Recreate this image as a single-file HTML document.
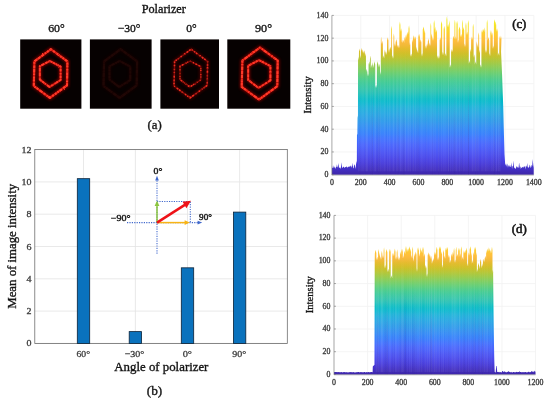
<!DOCTYPE html>
<html lang="en"><head><meta charset="utf-8"><title>Polarizer figure</title>
<style>html,body{margin:0;padding:0;background:#fff;}body{width:550px;height:402px;overflow:hidden;}svg{display:block;}text{font-family:"Liberation Serif", serif;fill:#161616;stroke:#161616;stroke-width:0.34px;}text.in{stroke-width:0.4px;}text.tk{fill:#3c3c3c;stroke:#3c3c3c;stroke-width:0.3px;}</style></head><body>
<svg width="550" height="402" viewBox="0 0 550 402">
<defs>
<linearGradient id="gc" gradientUnits="userSpaceOnUse" x1="0" y1="174.70" x2="0" y2="15.40">
<stop offset="0.0000" stop-color="#3e26a8"/>
<stop offset="0.0159" stop-color="#402ab4"/>
<stop offset="0.0317" stop-color="#422ec0"/>
<stop offset="0.0476" stop-color="#4332cb"/>
<stop offset="0.0635" stop-color="#4537d5"/>
<stop offset="0.0794" stop-color="#463cde"/>
<stop offset="0.0952" stop-color="#4741e5"/>
<stop offset="0.1111" stop-color="#4747eb"/>
<stop offset="0.1270" stop-color="#484df0"/>
<stop offset="0.1429" stop-color="#4852f4"/>
<stop offset="0.1587" stop-color="#4758f8"/>
<stop offset="0.1746" stop-color="#465efb"/>
<stop offset="0.1905" stop-color="#4563fd"/>
<stop offset="0.2063" stop-color="#4269fe"/>
<stop offset="0.2222" stop-color="#3e6fff"/>
<stop offset="0.2381" stop-color="#3875fe"/>
<stop offset="0.2540" stop-color="#327cfc"/>
<stop offset="0.2698" stop-color="#2f81fa"/>
<stop offset="0.2857" stop-color="#2e87f7"/>
<stop offset="0.3016" stop-color="#2d8cf3"/>
<stop offset="0.3175" stop-color="#2b91ef"/>
<stop offset="0.3333" stop-color="#2797eb"/>
<stop offset="0.3492" stop-color="#259be8"/>
<stop offset="0.3651" stop-color="#23a0e5"/>
<stop offset="0.3810" stop-color="#20a5e3"/>
<stop offset="0.3968" stop-color="#1ca9df"/>
<stop offset="0.4127" stop-color="#18addb"/>
<stop offset="0.4286" stop-color="#12b1d6"/>
<stop offset="0.4444" stop-color="#08b5d0"/>
<stop offset="0.4603" stop-color="#01b8ca"/>
<stop offset="0.4762" stop-color="#02bac3"/>
<stop offset="0.4921" stop-color="#0bbdbd"/>
<stop offset="0.5079" stop-color="#19bfb6"/>
<stop offset="0.5238" stop-color="#24c1ae"/>
<stop offset="0.5397" stop-color="#2cc4a7"/>
<stop offset="0.5556" stop-color="#31c69f"/>
<stop offset="0.5714" stop-color="#37c897"/>
<stop offset="0.5873" stop-color="#3fca8e"/>
<stop offset="0.6032" stop-color="#4acb84"/>
<stop offset="0.6190" stop-color="#57cc7a"/>
<stop offset="0.6349" stop-color="#64cd6f"/>
<stop offset="0.6508" stop-color="#72cd64"/>
<stop offset="0.6667" stop-color="#81cc59"/>
<stop offset="0.6825" stop-color="#8fcb4e"/>
<stop offset="0.6984" stop-color="#9dc943"/>
<stop offset="0.7143" stop-color="#abc739"/>
<stop offset="0.7302" stop-color="#b9c431"/>
<stop offset="0.7460" stop-color="#c5c22a"/>
<stop offset="0.7619" stop-color="#d1bf27"/>
<stop offset="0.7778" stop-color="#dcbd29"/>
<stop offset="0.7937" stop-color="#e6bb2d"/>
<stop offset="0.8095" stop-color="#f0ba36"/>
<stop offset="0.8254" stop-color="#f8ba3d"/>
<stop offset="0.8413" stop-color="#febe3c"/>
<stop offset="0.8571" stop-color="#fec338"/>
<stop offset="0.8730" stop-color="#fec934"/>
<stop offset="0.8889" stop-color="#fccf30"/>
<stop offset="0.9048" stop-color="#fad62d"/>
<stop offset="0.9206" stop-color="#f7dc2a"/>
<stop offset="0.9365" stop-color="#f5e327"/>
<stop offset="0.9524" stop-color="#f5e924"/>
<stop offset="0.9683" stop-color="#f6ef20"/>
<stop offset="0.9841" stop-color="#f7f51b"/>
<stop offset="1.0000" stop-color="#f9fb15"/>
</linearGradient>
<linearGradient id="gd" gradientUnits="userSpaceOnUse" x1="0" y1="374.40" x2="0" y2="233.57">
<stop offset="0.0000" stop-color="#3e26a8"/>
<stop offset="0.0159" stop-color="#402ab4"/>
<stop offset="0.0317" stop-color="#422ec0"/>
<stop offset="0.0476" stop-color="#4332cb"/>
<stop offset="0.0635" stop-color="#4537d5"/>
<stop offset="0.0794" stop-color="#463cde"/>
<stop offset="0.0952" stop-color="#4741e5"/>
<stop offset="0.1111" stop-color="#4747eb"/>
<stop offset="0.1270" stop-color="#484df0"/>
<stop offset="0.1429" stop-color="#4852f4"/>
<stop offset="0.1587" stop-color="#4758f8"/>
<stop offset="0.1746" stop-color="#465efb"/>
<stop offset="0.1905" stop-color="#4563fd"/>
<stop offset="0.2063" stop-color="#4269fe"/>
<stop offset="0.2222" stop-color="#3e6fff"/>
<stop offset="0.2381" stop-color="#3875fe"/>
<stop offset="0.2540" stop-color="#327cfc"/>
<stop offset="0.2698" stop-color="#2f81fa"/>
<stop offset="0.2857" stop-color="#2e87f7"/>
<stop offset="0.3016" stop-color="#2d8cf3"/>
<stop offset="0.3175" stop-color="#2b91ef"/>
<stop offset="0.3333" stop-color="#2797eb"/>
<stop offset="0.3492" stop-color="#259be8"/>
<stop offset="0.3651" stop-color="#23a0e5"/>
<stop offset="0.3810" stop-color="#20a5e3"/>
<stop offset="0.3968" stop-color="#1ca9df"/>
<stop offset="0.4127" stop-color="#18addb"/>
<stop offset="0.4286" stop-color="#12b1d6"/>
<stop offset="0.4444" stop-color="#08b5d0"/>
<stop offset="0.4603" stop-color="#01b8ca"/>
<stop offset="0.4762" stop-color="#02bac3"/>
<stop offset="0.4921" stop-color="#0bbdbd"/>
<stop offset="0.5079" stop-color="#19bfb6"/>
<stop offset="0.5238" stop-color="#24c1ae"/>
<stop offset="0.5397" stop-color="#2cc4a7"/>
<stop offset="0.5556" stop-color="#31c69f"/>
<stop offset="0.5714" stop-color="#37c897"/>
<stop offset="0.5873" stop-color="#3fca8e"/>
<stop offset="0.6032" stop-color="#4acb84"/>
<stop offset="0.6190" stop-color="#57cc7a"/>
<stop offset="0.6349" stop-color="#64cd6f"/>
<stop offset="0.6508" stop-color="#72cd64"/>
<stop offset="0.6667" stop-color="#81cc59"/>
<stop offset="0.6825" stop-color="#8fcb4e"/>
<stop offset="0.6984" stop-color="#9dc943"/>
<stop offset="0.7143" stop-color="#abc739"/>
<stop offset="0.7302" stop-color="#b9c431"/>
<stop offset="0.7460" stop-color="#c5c22a"/>
<stop offset="0.7619" stop-color="#d1bf27"/>
<stop offset="0.7778" stop-color="#dcbd29"/>
<stop offset="0.7937" stop-color="#e6bb2d"/>
<stop offset="0.8095" stop-color="#f0ba36"/>
<stop offset="0.8254" stop-color="#f8ba3d"/>
<stop offset="0.8413" stop-color="#febe3c"/>
<stop offset="0.8571" stop-color="#fec338"/>
<stop offset="0.8730" stop-color="#fec934"/>
<stop offset="0.8889" stop-color="#fccf30"/>
<stop offset="0.9048" stop-color="#fad62d"/>
<stop offset="0.9206" stop-color="#f7dc2a"/>
<stop offset="0.9365" stop-color="#f5e327"/>
<stop offset="0.9524" stop-color="#f5e924"/>
<stop offset="0.9683" stop-color="#f6ef20"/>
<stop offset="0.9841" stop-color="#f7f51b"/>
<stop offset="1.0000" stop-color="#f9fb15"/>
</linearGradient>
<linearGradient id="stc" gradientUnits="userSpaceOnUse" x1="0" y1="171.3" x2="0" y2="47.3"><stop offset="0" stop-color="#fff" stop-opacity="0.5"/><stop offset="0.6" stop-color="#fff" stop-opacity="1"/><stop offset="1" stop-color="#fff" stop-opacity="0"/></linearGradient>
<linearGradient id="std" gradientUnits="userSpaceOnUse" x1="0" y1="372.1" x2="0" y2="256.3"><stop offset="0" stop-color="#fff" stop-opacity="0.5"/><stop offset="0.6" stop-color="#fff" stop-opacity="1"/><stop offset="1" stop-color="#fff" stop-opacity="0"/></linearGradient>
<linearGradient id="dkc" gradientUnits="userSpaceOnUse" x1="0" y1="165.6" x2="0" y2="72.3"><stop offset="0" stop-color="#2a1f8a" stop-opacity="1"/><stop offset="1" stop-color="#2a1f8a" stop-opacity="0"/></linearGradient>
<linearGradient id="dkd" gradientUnits="userSpaceOnUse" x1="0" y1="367.6" x2="0" y2="285.8"><stop offset="0" stop-color="#2a1f8a" stop-opacity="1"/><stop offset="1" stop-color="#2a1f8a" stop-opacity="0"/></linearGradient>
<filter id="glow" x="-10%" y="-10%" width="120%" height="120%"><feGaussianBlur stdDeviation="1.5"/></filter>
<filter id="rough" x="-10%" y="-10%" width="120%" height="120%"><feTurbulence type="fractalNoise" baseFrequency="0.45" numOctaves="2" seed="5" result="n"/><feDisplacementMap in="SourceGraphic" in2="n" scale="1.6" xChannelSelector="R" yChannelSelector="G" result="d"/><feGaussianBlur in="d" stdDeviation="0.3"/></filter>
<filter id="soft" x="-10%" y="-10%" width="120%" height="120%"><feGaussianBlur stdDeviation="0.35"/></filter>
</defs>
<rect width="550" height="402" fill="#fff"/>
<text x="141.7" y="13.3" font-size="11.5" text-anchor="start" textLength="44.2" lengthAdjust="spacingAndGlyphs">Polarizer</text>
<text x="48.2" y="31.5" font-size="11.2" text-anchor="start" textLength="16.6" lengthAdjust="spacingAndGlyphs">60°</text>
<rect x="20.2" y="39.4" width="61.2" height="69.3" fill="#060101"/>
<g opacity="1.00">
<g filter="url(#glow)" opacity="0.75"><polygon points="50.9,49.2 67.4,61.4 67.0,85.4 49.9,97.9 33.8,86.0 34.4,61.4" fill="none" stroke="#c00000" stroke-width="3.2"/><polygon points="49.9,61.0 60.6,66.6 60.6,80.0 49.5,87.0 39.8,79.6 39.8,66.2" fill="none" stroke="#c00000" stroke-width="3.0"/></g>
<g filter="url(#rough)" fill="none" stroke-linejoin="round">
<polygon points="50.9,49.2 67.4,61.4 67.0,85.4 49.9,97.9 33.8,86.0 34.4,61.4" stroke="#dc1a10" stroke-width="2.0"/><polygon points="49.9,61.0 60.6,66.6 60.6,80.0 49.5,87.0 39.8,79.6 39.8,66.2" stroke="#dc1a10" stroke-width="1.8"/>
<polygon points="50.9,49.2 67.4,61.4 67.0,85.4 49.9,97.9 33.8,86.0 34.4,61.4" stroke="#ff3a2a" stroke-width="2.1" stroke-dasharray="1.2 1.5 2.3 1.4 3.9 1.2 2.5 0.5 1.8 1.1 3.0 1.5 2.1 0.5 1.9 1.7 1.6 1.0 3.8 0.4 2.8 1.7 1.7 1.2 3.7 0.6 2.6 1.5 3.0 1.1 1.6 1.1 2.1 1.1 2.1 1.6 3.3 0.8"/>
<polygon points="49.9,61.0 60.6,66.6 60.6,80.0 49.5,87.0 39.8,79.6 39.8,66.2" stroke="#ff3a2a" stroke-width="1.9" stroke-dasharray="2.7 0.8 2.4 0.9 3.0 0.9 2.4 1.4 2.2 1.7 1.5 1.4 2.3 1.0 2.9 1.1 2.2 0.4 1.3 1.4 2.6 1.4 3.9 1.4 1.2 0.8 2.8 0.7 3.9 1.7 3.5 1.1 3.5 0.6 1.9 1.0 3.2 1.1"/>
<polygon points="50.9,49.2 67.4,61.4 67.0,85.4 49.9,97.9 33.8,86.0 34.4,61.4" stroke="#5a0000" stroke-opacity="0.30" stroke-width="2.2" stroke-dasharray="0.5 6.2 0.6 5.9 0.5 6.8 0.7 9.7 0.9 7.7 0.7 9.7 0.9 8.9 0.9 11.0 0.4 10.5"/>
<polygon points="49.9,61.0 60.6,66.6 60.6,80.0 49.5,87.0 39.8,79.6 39.8,66.2" stroke="#5a0000" stroke-opacity="0.30" stroke-width="2.0" stroke-dasharray="0.6 7.3 0.9 9.2 0.5 8.8 0.4 6.4 0.9 6.9 0.8 9.3 0.9 9.6 0.4 6.9 0.7 3.9"/>
</g></g>
<text x="117.7" y="31.5" font-size="11.2" text-anchor="start" textLength="22.7" lengthAdjust="spacingAndGlyphs">−30°</text>
<rect x="89.9" y="39.4" width="61.7" height="69.3" fill="#060101"/>
<g opacity="0.10">
<g filter="url(#glow)" opacity="0.75"><polygon points="120.6,49.2 137.1,61.4 136.7,85.4 119.6,97.9 103.5,86.0 104.1,61.4" fill="none" stroke="#c00000" stroke-width="3.2"/><polygon points="119.6,61.0 130.3,66.6 130.3,80.0 119.2,87.0 109.5,79.6 109.5,66.2" fill="none" stroke="#c00000" stroke-width="3.0"/></g>
<g filter="url(#rough)" fill="none" stroke-linejoin="round">
<polygon points="120.6,49.2 137.1,61.4 136.7,85.4 119.6,97.9 103.5,86.0 104.1,61.4" stroke="#dc1a10" stroke-width="2.0"/><polygon points="119.6,61.0 130.3,66.6 130.3,80.0 119.2,87.0 109.5,79.6 109.5,66.2" stroke="#dc1a10" stroke-width="1.8"/>
<polygon points="120.6,49.2 137.1,61.4 136.7,85.4 119.6,97.9 103.5,86.0 104.1,61.4" stroke="#ff3a2a" stroke-width="2.1" stroke-dasharray="2.6 1.3 3.5 1.7 1.4 0.7 3.0 0.6 1.7 1.2 1.5 1.5 3.6 0.4 2.6 1.5 3.9 0.8 1.5 1.6 3.7 0.7 2.3 1.4 3.5 0.6 3.0 1.5 2.6 0.6 1.1 0.8 3.4 0.5 1.0 0.9 1.2 0.6"/>
<polygon points="119.6,61.0 130.3,66.6 130.3,80.0 119.2,87.0 109.5,79.6 109.5,66.2" stroke="#ff3a2a" stroke-width="1.9" stroke-dasharray="1.1 1.1 3.1 1.0 1.4 0.9 2.8 1.7 4.0 0.7 1.0 1.6 3.8 1.0 3.3 1.6 2.8 1.6 1.1 0.8 1.8 0.6 3.7 0.4 3.0 0.5 2.1 1.0 1.5 1.1 2.6 0.8 3.2 0.6 1.6 0.9 2.1 0.7"/>
<polygon points="120.6,49.2 137.1,61.4 136.7,85.4 119.6,97.9 103.5,86.0 104.1,61.4" stroke="#5a0000" stroke-opacity="0.30" stroke-width="2.2" stroke-dasharray="1.0 10.1 0.5 6.5 0.5 7.1 0.6 7.5 1.0 6.6 0.8 8.3 0.9 4.0 0.8 11.1 0.8 5.8"/>
<polygon points="119.6,61.0 130.3,66.6 130.3,80.0 119.2,87.0 109.5,79.6 109.5,66.2" stroke="#5a0000" stroke-opacity="0.30" stroke-width="2.0" stroke-dasharray="0.8 9.2 0.8 4.7 1.0 11.1 0.7 8.2 0.4 11.4 0.9 8.6 0.9 5.0 0.6 5.5 0.8 4.2"/>
</g></g>
<text x="186.3" y="31.5" font-size="11.2" text-anchor="start" textLength="10.5" lengthAdjust="spacingAndGlyphs">0°</text>
<rect x="160.4" y="39.4" width="58.6" height="69.3" fill="#060101"/>
<g opacity="0.92">
<g filter="url(#glow)" opacity="0.35"><polygon points="191.1,49.2 207.6,61.4 207.2,85.4 190.1,97.9 174.0,86.0 174.6,61.4" fill="none" stroke="#c00000" stroke-width="3.2"/><polygon points="190.1,61.0 200.8,66.6 200.8,80.0 189.7,87.0 180.0,79.6 180.0,66.2" fill="none" stroke="#c00000" stroke-width="3.0"/></g>
<g filter="url(#rough)" fill="none" stroke-linejoin="round">
<polygon points="191.1,49.2 207.6,61.4 207.2,85.4 190.1,97.9 174.0,86.0 174.6,61.4" stroke="#8a0d08" stroke-width="1.35"/><polygon points="190.1,61.0 200.8,66.6 200.8,80.0 189.7,87.0 180.0,79.6 180.0,66.2" stroke="#8a0d08" stroke-width="1.2"/>
<polygon points="191.1,49.2 207.6,61.4 207.2,85.4 190.1,97.9 174.0,86.0 174.6,61.4" stroke="#ff3224" stroke-width="1.6" stroke-dasharray="1.9 1.9 1.2 1.1 1.6 2.8 1.5 1.4 1.8 1.1 1.8 2.2 1.0 2.0 1.5 1.4 1.9 1.8 1.9 2.8 0.7 2.4 1.0 2.6 1.4 1.9 1.9 0.9 1.4 1.6 0.6 2.6 1.4 2.9 1.5 1.6 2.1 1.1"/>
<polygon points="190.1,61.0 200.8,66.6 200.8,80.0 189.7,87.0 180.0,79.6 180.0,66.2" stroke="#ff3224" stroke-width="1.45" stroke-dasharray="0.6 2.6 1.1 1.7 1.9 1.6 1.9 2.3 1.0 0.9 0.9 3.1 1.1 1.2 1.0 3.0 0.8 2.7 0.7 3.1 1.3 0.9 2.0 1.7 1.7 2.1 0.6 1.1 0.7 1.2 0.6 0.9 2.0 1.0 1.3 1.1 0.8 2.6"/>
<polygon points="191.1,49.2 207.6,61.4 207.2,85.4 190.1,97.9 174.0,86.0 174.6,61.4" stroke="#5a0000" stroke-opacity="0.60" stroke-width="2.2" stroke-dasharray="1.0 7.3 0.4 11.5 0.4 6.6 0.7 10.6 0.9 8.4 0.6 10.2 0.9 10.5 0.8 4.3 0.6 7.4"/>
<polygon points="190.1,61.0 200.8,66.6 200.8,80.0 189.7,87.0 180.0,79.6 180.0,66.2" stroke="#5a0000" stroke-opacity="0.60" stroke-width="2.0" stroke-dasharray="0.7 10.2 0.5 8.8 0.6 9.7 0.5 7.3 0.5 5.2 1.0 6.0 0.9 7.7 0.4 9.8 0.4 10.1"/>
</g></g>
<text x="255.0" y="31.5" font-size="11.2" text-anchor="start" textLength="17.1" lengthAdjust="spacingAndGlyphs">90°</text>
<rect x="227.3" y="39.4" width="63.0" height="69.3" fill="#060101"/>
<g opacity="1.00">
<g filter="url(#glow)" opacity="0.75"><polygon points="260.0,47.5 277.7,60.5 277.3,86.2 259.0,99.6 241.7,86.9 242.4,60.5" fill="none" stroke="#c00000" stroke-width="3.2"/><polygon points="259.0,60.1 270.4,66.1 270.4,80.4 258.5,87.9 248.2,80.0 248.2,65.7" fill="none" stroke="#c00000" stroke-width="3.0"/></g>
<g filter="url(#rough)" fill="none" stroke-linejoin="round">
<polygon points="260.0,47.5 277.7,60.5 277.3,86.2 259.0,99.6 241.7,86.9 242.4,60.5" stroke="#dc1a10" stroke-width="2.0"/><polygon points="259.0,60.1 270.4,66.1 270.4,80.4 258.5,87.9 248.2,80.0 248.2,65.7" stroke="#dc1a10" stroke-width="1.8"/>
<polygon points="260.0,47.5 277.7,60.5 277.3,86.2 259.0,99.6 241.7,86.9 242.4,60.5" stroke="#ff3a2a" stroke-width="2.1" stroke-dasharray="1.0 1.3 1.5 0.9 3.9 1.1 3.0 1.4 1.3 1.6 3.7 0.6 2.6 0.8 3.2 0.4 2.5 1.5 3.2 0.6 3.5 0.7 3.4 1.1 1.5 1.4 3.4 1.4 3.9 0.8 1.7 0.6 2.6 1.0 2.1 1.0 1.8 0.4"/>
<polygon points="259.0,60.1 270.4,66.1 270.4,80.4 258.5,87.9 248.2,80.0 248.2,65.7" stroke="#ff3a2a" stroke-width="1.9" stroke-dasharray="2.4 0.8 2.3 1.7 1.5 1.3 2.9 0.8 2.4 1.8 2.0 1.4 3.5 0.9 4.0 1.3 2.5 1.4 2.3 1.4 1.8 1.7 2.6 0.7 2.3 1.7 3.4 1.1 2.1 0.9 3.9 0.6 3.7 1.6 1.7 0.9 2.7 1.5"/>
<polygon points="260.0,47.5 277.7,60.5 277.3,86.2 259.0,99.6 241.7,86.9 242.4,60.5" stroke="#5a0000" stroke-opacity="0.30" stroke-width="2.2" stroke-dasharray="1.0 11.4 0.6 5.0 0.7 8.0 0.8 4.4 0.8 10.9 0.9 11.1 1.0 11.2 0.4 10.8 0.6 6.1"/>
<polygon points="259.0,60.1 270.4,66.1 270.4,80.4 258.5,87.9 248.2,80.0 248.2,65.7" stroke="#5a0000" stroke-opacity="0.30" stroke-width="2.0" stroke-dasharray="0.7 11.1 0.8 6.3 0.6 10.7 0.9 4.6 0.5 6.5 0.5 8.0 0.5 8.1 1.0 10.3 0.5 5.2"/>
</g></g>
<text x="147.4" y="129.3" font-size="12.3" text-anchor="start" textLength="14.3" lengthAdjust="spacingAndGlyphs">(a)</text>
<line x1="34.8" x2="287.3" y1="343.40" y2="343.40" stroke="#e3e3e3" stroke-width="0.8"/>
<line x1="34.8" x2="287.3" y1="311.10" y2="311.10" stroke="#e3e3e3" stroke-width="0.8"/>
<line x1="34.8" x2="287.3" y1="278.80" y2="278.80" stroke="#e3e3e3" stroke-width="0.8"/>
<line x1="34.8" x2="287.3" y1="246.50" y2="246.50" stroke="#e3e3e3" stroke-width="0.8"/>
<line x1="34.8" x2="287.3" y1="214.20" y2="214.20" stroke="#e3e3e3" stroke-width="0.8"/>
<line x1="34.8" x2="287.3" y1="181.90" y2="181.90" stroke="#e3e3e3" stroke-width="0.8"/>
<line x1="34.8" x2="287.3" y1="149.60" y2="149.60" stroke="#e3e3e3" stroke-width="0.8"/>
<line x1="83.50" x2="83.50" y1="343.4" y2="149.6" stroke="#e3e3e3" stroke-width="0.8"/>
<line x1="135.40" x2="135.40" y1="343.4" y2="149.6" stroke="#e3e3e3" stroke-width="0.8"/>
<line x1="187.50" x2="187.50" y1="343.4" y2="149.6" stroke="#e3e3e3" stroke-width="0.8"/>
<line x1="239.60" x2="239.60" y1="343.4" y2="149.6" stroke="#e3e3e3" stroke-width="0.8"/>
<rect x="34.8" y="149.6" width="252.5" height="193.8" fill="none" stroke="#666" stroke-width="0.75"/>
<rect x="77.30" y="178.67" width="12.4" height="164.73" fill="#0a72bd" stroke="#0c2238" stroke-width="0.8"/>
<rect x="129.20" y="331.61" width="12.4" height="11.79" fill="#0a72bd" stroke="#0c2238" stroke-width="0.8"/>
<rect x="181.30" y="267.82" width="12.4" height="75.58" fill="#0a72bd" stroke="#0c2238" stroke-width="0.8"/>
<rect x="233.40" y="212.10" width="12.4" height="131.30" fill="#0a72bd" stroke="#0c2238" stroke-width="0.8"/>
<text class="tk" transform="translate(31.6,346.4) scale(1.1,1)" font-size="9.1" text-anchor="end">0</text>
<text class="tk" transform="translate(31.6,314.1) scale(1.1,1)" font-size="9.1" text-anchor="end">2</text>
<text class="tk" transform="translate(31.6,281.8) scale(1.1,1)" font-size="9.1" text-anchor="end">4</text>
<text class="tk" transform="translate(31.6,249.5) scale(1.1,1)" font-size="9.1" text-anchor="end">6</text>
<text class="tk" transform="translate(31.6,217.2) scale(1.1,1)" font-size="9.1" text-anchor="end">8</text>
<text class="tk" transform="translate(31.6,184.9) scale(1.1,1)" font-size="9.1" text-anchor="end">10</text>
<text class="tk" transform="translate(31.6,152.6) scale(1.1,1)" font-size="9.1" text-anchor="end">12</text>
<text x="76.5" y="356.6" font-size="9.1" text-anchor="start" textLength="13.6" lengthAdjust="spacingAndGlyphs" class="tk">60°</text>
<text x="124.6" y="356.6" font-size="9.1" text-anchor="start" textLength="19.7" lengthAdjust="spacingAndGlyphs" class="tk">−30°</text>
<text x="182.7" y="356.6" font-size="9.1" text-anchor="start" textLength="9.3" lengthAdjust="spacingAndGlyphs" class="tk">0°</text>
<text x="232.3" y="356.6" font-size="9.1" text-anchor="start" textLength="14.0" lengthAdjust="spacingAndGlyphs" class="tk">90°</text>
<text x="114.3" y="371.1" font-size="12.0" text-anchor="start" textLength="94.1" lengthAdjust="spacingAndGlyphs">Angle of polarizer</text>
<text x="146.8" y="395.2" font-size="12.3" text-anchor="start" textLength="15.5" lengthAdjust="spacingAndGlyphs">(b)</text>
<text transform="translate(15.9,246.3) rotate(-90)" font-size="12.8" text-anchor="middle" textLength="124.8" lengthAdjust="spacingAndGlyphs">Mean of image intensity</text>
<g fill="none" stroke="#4068cc" stroke-width="1.05" stroke-dasharray="1.2 1.2">
<line x1="157.0" y1="253.8" x2="157.0" y2="179"/>
<line x1="127" y1="222.6" x2="199" y2="222.6"/>
<polyline points="157.0,201.4 190.3,201.4 190.3,222.6"/>
</g>
<polygon points="157.0,175.8 155.2,180.4 158.8,180.4" fill="#4068cc"/>
<polygon points="202.2,222.6 197.6,220.8 197.6,224.4" fill="#4068cc"/>
<line x1="157.0" y1="222.6" x2="157.0" y2="205" stroke="#8cc63f" stroke-width="1.5"/>
<polygon points="157.0,200.6 154.6,206 159.4,206" fill="#8cc63f"/>
<line x1="157.0" y1="222.6" x2="185.6" y2="222.6" stroke="#f8b416" stroke-width="1.5"/>
<polygon points="189.8,222.6 184.6,220.3 184.6,224.9" fill="#f8b416"/>
<line x1="157.0" y1="222.6" x2="185.6" y2="204.4" stroke="#ee1218" stroke-width="2.5"/>
<polygon points="191,200.8 182.6,201.8 186.4,208.2" fill="#ee1218"/>
<text x="153.6" y="173.8" font-size="8.4" text-anchor="start" textLength="8.8" lengthAdjust="spacingAndGlyphs" class="in">0°</text>
<text x="199.1" y="220.4" font-size="8.4" text-anchor="start" textLength="12.8" lengthAdjust="spacingAndGlyphs" class="in">90°</text>
<text x="110.9" y="220.6" font-size="8.4" text-anchor="start" textLength="19.7" lengthAdjust="spacingAndGlyphs" class="in">−90°</text>
<line x1="331.9" x2="533.8" y1="174.70" y2="174.70" stroke="#f1f1f1" stroke-width="0.8"/>
<line x1="331.9" x2="533.8" y1="151.94" y2="151.94" stroke="#f1f1f1" stroke-width="0.8"/>
<line x1="331.9" x2="533.8" y1="129.19" y2="129.19" stroke="#f1f1f1" stroke-width="0.8"/>
<line x1="331.9" x2="533.8" y1="106.43" y2="106.43" stroke="#f1f1f1" stroke-width="0.8"/>
<line x1="331.9" x2="533.8" y1="83.67" y2="83.67" stroke="#f1f1f1" stroke-width="0.8"/>
<line x1="331.9" x2="533.8" y1="60.91" y2="60.91" stroke="#f1f1f1" stroke-width="0.8"/>
<line x1="331.9" x2="533.8" y1="38.16" y2="38.16" stroke="#f1f1f1" stroke-width="0.8"/>
<line x1="331.9" x2="533.8" y1="15.40" y2="15.40" stroke="#f1f1f1" stroke-width="0.8"/>
<line x1="331.90" x2="331.90" y1="174.7" y2="15.4" stroke="#f1f1f1" stroke-width="0.8"/>
<line x1="360.74" x2="360.74" y1="174.7" y2="15.4" stroke="#f1f1f1" stroke-width="0.8"/>
<line x1="389.59" x2="389.59" y1="174.7" y2="15.4" stroke="#f1f1f1" stroke-width="0.8"/>
<line x1="418.43" x2="418.43" y1="174.7" y2="15.4" stroke="#f1f1f1" stroke-width="0.8"/>
<line x1="447.27" x2="447.27" y1="174.7" y2="15.4" stroke="#f1f1f1" stroke-width="0.8"/>
<line x1="476.11" x2="476.11" y1="174.7" y2="15.4" stroke="#f1f1f1" stroke-width="0.8"/>
<line x1="504.96" x2="504.96" y1="174.7" y2="15.4" stroke="#f1f1f1" stroke-width="0.8"/>
<line x1="533.80" x2="533.80" y1="174.7" y2="15.4" stroke="#f1f1f1" stroke-width="0.8"/>
<polygon points="331.90,174.70 331.90,165.14 332.40,168.05 332.91,168.11 333.41,167.57 333.92,165.26 334.42,167.72 334.93,167.17 335.43,169.01 335.94,167.05 336.44,166.89 336.95,164.32 337.45,167.77 337.96,166.32 338.46,163.09 338.97,167.63 339.47,167.77 339.98,167.54 340.48,169.01 340.99,166.84 341.49,162.30 342.00,166.98 342.50,168.18 343.00,166.98 343.51,166.41 344.01,167.28 344.52,167.93 345.02,167.03 345.53,167.14 346.03,166.80 346.54,166.16 347.04,167.87 347.55,167.26 348.05,166.92 348.56,166.46 349.06,167.02 349.57,166.16 350.07,166.82 350.58,165.78 351.08,165.59 351.59,167.68 352.09,165.95 352.59,162.77 353.10,167.81 353.60,168.53 354.11,164.50 354.61,164.75 355.12,166.46 355.62,169.01 355.98,164.46 356.42,162.18 356.85,161.05 357.07,115.53 357.43,117.81 357.57,134.88 357.93,133.74 358.07,51.81 358.16,60.22 358.55,56.80 358.93,60.22 358.97,51.86 359.55,48.45 360.12,51.86 360.16,58.49 360.56,55.08 360.96,58.49 360.99,51.07 361.52,47.66 362.06,51.07 362.11,52.63 362.78,49.22 363.45,52.63 363.51,53.64 364.23,50.22 364.94,53.64 364.99,56.48 365.47,53.06 365.96,56.48 366.00,72.08 366.68,68.66 367.35,72.08 367.40,76.59 367.95,73.18 368.50,76.59 368.55,64.77 369.24,61.36 369.93,64.77 369.97,59.03 370.38,55.61 370.79,59.03 370.83,67.92 371.42,64.51 372.00,67.92 372.04,65.43 372.46,62.01 372.87,65.43 372.91,68.21 373.38,64.80 373.86,68.21 373.91,64.70 374.57,61.28 375.24,64.70 375.29,88.06 376.07,84.64 376.84,88.06 376.90,64.70 377.63,61.29 378.35,64.70 378.41,67.38 379.21,63.96 380.00,67.38 380.05,74.86 380.42,71.45 380.79,74.86 380.82,40.00 381.17,36.59 381.52,40.00 381.56,44.09 382.22,40.67 382.88,44.09 382.94,58.55 383.63,55.14 384.31,58.55 384.37,52.81 384.90,49.40 385.43,52.81 385.47,54.98 385.83,51.57 386.20,54.98 386.23,54.70 386.59,51.28 386.96,54.70 387.00,40.57 387.74,37.15 388.47,40.57 388.52,52.67 388.98,49.25 389.45,52.67 389.50,50.07 390.31,46.66 391.12,50.07 391.18,29.28 391.60,25.86 392.02,29.28 392.07,58.64 392.74,55.22 393.41,58.64 393.45,36.77 393.86,33.35 394.27,36.77 394.31,46.68 394.91,43.27 395.51,46.68 395.56,42.38 396.32,38.97 397.08,42.38 397.13,47.82 397.65,44.40 398.17,47.82 398.22,48.19 398.77,44.78 399.33,48.19 399.38,24.92 399.90,21.51 400.42,24.92 400.47,31.70 401.11,28.29 401.75,31.70 401.79,42.53 402.24,39.11 402.69,42.53 402.74,43.03 403.45,39.62 404.16,43.03 404.21,40.12 404.74,36.70 405.26,40.12 405.31,37.89 406.01,34.48 406.70,37.89 406.75,35.05 407.22,31.64 407.69,35.05 407.73,34.40 408.09,30.98 408.46,34.40 408.50,28.69 409.02,25.28 409.54,28.69 409.58,45.60 409.94,42.19 410.29,45.60 410.34,56.87 411.15,53.45 411.97,56.87 412.02,42.45 412.50,39.04 412.98,42.45 413.03,38.58 413.82,35.16 414.60,38.58 414.67,39.70 415.35,36.29 416.04,39.70 416.09,49.89 416.52,46.47 416.96,49.89 417.00,53.20 417.60,49.79 418.20,53.20 418.26,37.11 419.08,33.70 419.90,37.11 419.96,42.52 420.67,39.11 421.38,42.52 421.44,56.51 422.06,53.10 422.68,56.51 422.74,29.81 423.46,26.40 424.18,29.81 424.23,33.51 424.72,30.10 425.21,33.51 425.26,48.80 425.84,45.39 426.43,48.80 426.48,46.59 427.12,43.18 427.76,46.59 427.81,41.79 428.43,38.37 429.05,41.79 429.10,46.10 429.75,42.69 430.40,46.10 430.44,26.05 430.80,22.63 431.16,26.05 431.19,37.00 431.70,33.59 432.21,37.00 432.26,40.71 432.94,37.30 433.62,40.71 433.67,23.49 434.16,20.08 434.65,23.49 434.69,29.93 435.16,26.52 435.64,29.93 435.69,32.79 436.36,29.38 437.03,32.79 437.08,58.64 437.66,55.22 438.24,58.64 438.29,58.64 438.93,55.22 439.56,58.64 439.61,40.59 440.26,37.18 440.90,40.59 440.95,24.36 441.56,20.94 442.17,24.36 442.22,55.27 442.90,51.86 443.57,55.27 443.62,29.27 444.25,25.86 444.89,29.27 444.94,56.41 445.65,53.00 446.35,56.41 446.40,19.95 446.87,16.54 447.34,19.95 447.39,27.44 448.16,24.03 448.93,27.44 448.98,23.76 449.34,20.34 449.70,23.76 449.75,67.74 450.39,64.33 451.03,67.74 451.09,52.37 451.91,48.96 452.72,52.37 452.79,39.16 453.59,35.75 454.40,39.16 454.45,22.98 454.88,19.57 455.31,22.98 455.35,39.63 455.87,36.21 456.40,39.63 456.45,24.11 457.07,20.70 457.69,24.11 457.74,42.85 458.20,39.43 458.66,42.85 458.71,29.85 459.52,26.44 460.33,29.85 460.40,37.29 461.18,33.88 461.97,37.29 462.02,22.96 462.38,19.55 462.75,22.96 462.80,30.45 463.50,27.04 464.20,30.45 464.25,46.89 464.84,43.47 465.44,46.89 465.48,25.69 465.96,22.28 466.44,25.69 466.49,34.88 467.13,31.47 467.78,34.88 467.82,23.41 468.29,19.99 468.76,23.41 468.80,63.86 469.43,60.44 470.06,63.86 470.11,52.21 470.57,48.80 471.04,52.21 471.09,39.95 471.90,36.54 472.70,39.95 472.75,26.96 473.19,23.55 473.63,26.96 473.67,57.76 474.22,54.35 474.78,57.76 474.83,64.61 475.55,61.19 476.28,64.61 476.33,44.59 476.79,41.18 477.25,44.59 477.28,47.87 477.74,44.46 478.20,47.87 478.24,35.59 478.69,32.18 479.14,35.59 479.17,53.06 479.58,49.64 479.98,53.06 480.03,67.74 480.72,64.33 481.41,67.74 481.46,32.64 482.12,29.22 482.78,32.64 482.84,32.14 483.57,28.73 484.30,32.14 484.35,30.62 484.78,27.20 485.20,30.62 485.25,52.97 485.97,49.56 486.69,52.97 486.74,22.88 487.18,19.47 487.62,22.88 487.67,40.44 488.45,37.03 489.24,40.44 489.29,56.36 489.78,52.95 490.26,56.36 490.31,33.51 490.96,30.10 491.61,33.51 491.66,35.75 492.20,32.34 492.73,35.75 492.77,48.84 493.32,45.43 493.86,48.84 493.92,22.79 494.62,19.37 495.33,22.79 495.37,24.88 495.79,21.46 496.21,24.88 496.26,31.70 497.04,28.28 497.82,31.70 497.88,55.83 498.57,52.41 499.26,55.83 499.31,39.35 499.83,35.93 500.35,39.35 500.39,38.85 500.93,35.44 501.46,38.85 501.06,51.81 502.07,74.57 503.23,106.43 503.95,134.88 504.52,154.22 505.10,163.32 505.53,165.60 505.97,163.82 506.47,166.73 506.98,163.33 507.48,164.78 507.99,167.72 508.49,164.64 509.00,166.57 509.50,166.61 510.00,164.58 510.51,167.04 511.01,166.68 511.52,162.24 512.02,169.15 512.53,165.81 513.03,166.62 513.54,160.47 514.04,166.88 514.55,168.22 515.05,168.04 515.56,169.27 516.06,167.73 516.57,166.30 517.07,166.51 517.58,167.56 518.08,167.45 518.59,167.71 519.09,162.45 519.59,165.71 520.10,169.20 520.60,166.32 521.11,167.60 521.61,168.20 522.12,167.15 522.62,167.18 523.13,166.62 523.63,168.08 524.14,165.76 524.64,167.16 525.15,165.85 525.65,169.58 526.16,165.70 526.66,166.96 527.17,162.92 527.67,166.80 528.18,167.97 528.68,167.27 529.19,166.91 529.69,164.57 530.19,165.98 530.70,168.07 531.20,166.95 531.71,164.66 532.21,165.93 532.72,158.96 533.22,164.73 533.73,167.69 533.73,174.70" fill="url(#gc)"/>
<g stroke="url(#stc)" stroke-width="0.8"><line x1="358.60" x2="358.61" y1="171.3" y2="47.3" stroke-opacity="0.10"/><line x1="359.29" x2="359.30" y1="171.3" y2="47.3" stroke-opacity="0.13"/><line x1="360.52" x2="360.53" y1="171.3" y2="47.3" stroke-opacity="0.06"/><line x1="361.03" x2="361.04" y1="171.3" y2="47.3" stroke-opacity="0.09"/><line x1="361.96" x2="361.97" y1="171.3" y2="47.3" stroke-opacity="0.13"/><line x1="362.86" x2="362.87" y1="171.3" y2="47.3" stroke-opacity="0.13"/><line x1="363.84" x2="363.85" y1="171.3" y2="47.3" stroke-opacity="0.12"/><line x1="364.23" x2="364.24" y1="171.3" y2="47.3" stroke-opacity="0.06"/><line x1="365.53" x2="365.54" y1="171.3" y2="47.3" stroke-opacity="0.09"/><line x1="366.16" x2="366.17" y1="171.3" y2="47.3" stroke-opacity="0.18"/><line x1="366.85" x2="366.86" y1="171.3" y2="47.3" stroke-opacity="0.17"/><line x1="367.66" x2="367.67" y1="171.3" y2="47.3" stroke-opacity="0.16"/><line x1="368.95" x2="368.96" y1="171.3" y2="47.3" stroke-opacity="0.06"/><line x1="369.76" x2="369.77" y1="171.3" y2="47.3" stroke-opacity="0.06"/><line x1="370.32" x2="370.33" y1="171.3" y2="47.3" stroke-opacity="0.08"/><line x1="371.02" x2="371.03" y1="171.3" y2="47.3" stroke-opacity="0.16"/><line x1="372.29" x2="372.30" y1="171.3" y2="47.3" stroke-opacity="0.08"/><line x1="372.46" x2="372.47" y1="171.3" y2="47.3" stroke-opacity="0.08"/><line x1="373.32" x2="373.33" y1="171.3" y2="47.3" stroke-opacity="0.08"/><line x1="374.46" x2="374.47" y1="171.3" y2="47.3" stroke-opacity="0.15"/><line x1="375.37" x2="375.38" y1="171.3" y2="47.3" stroke-opacity="0.12"/><line x1="375.80" x2="375.81" y1="171.3" y2="47.3" stroke-opacity="0.16"/><line x1="376.76" x2="376.77" y1="171.3" y2="47.3" stroke-opacity="0.06"/><line x1="377.53" x2="377.54" y1="171.3" y2="47.3" stroke-opacity="0.06"/><line x1="378.48" x2="378.49" y1="171.3" y2="47.3" stroke-opacity="0.16"/><line x1="379.27" x2="379.28" y1="171.3" y2="47.3" stroke-opacity="0.06"/><line x1="380.06" x2="380.07" y1="171.3" y2="47.3" stroke-opacity="0.14"/><line x1="380.90" x2="380.91" y1="171.3" y2="47.3" stroke-opacity="0.13"/><line x1="381.91" x2="381.92" y1="171.3" y2="47.3" stroke-opacity="0.08"/><line x1="382.57" x2="382.58" y1="171.3" y2="47.3" stroke-opacity="0.08"/><line x1="383.86" x2="383.87" y1="171.3" y2="47.3" stroke-opacity="0.15"/><line x1="384.44" x2="384.45" y1="171.3" y2="47.3" stroke-opacity="0.05"/><line x1="385.08" x2="385.09" y1="171.3" y2="47.3" stroke-opacity="0.17"/><line x1="386.28" x2="386.29" y1="171.3" y2="47.3" stroke-opacity="0.06"/><line x1="387.21" x2="387.22" y1="171.3" y2="47.3" stroke-opacity="0.07"/><line x1="387.75" x2="387.76" y1="171.3" y2="47.3" stroke-opacity="0.13"/><line x1="388.34" x2="388.35" y1="171.3" y2="47.3" stroke-opacity="0.06"/><line x1="389.63" x2="389.64" y1="171.3" y2="47.3" stroke-opacity="0.18"/><line x1="390.53" x2="390.54" y1="171.3" y2="47.3" stroke-opacity="0.11"/><line x1="391.46" x2="391.47" y1="171.3" y2="47.3" stroke-opacity="0.06"/><line x1="392.18" x2="392.19" y1="171.3" y2="47.3" stroke-opacity="0.07"/><line x1="392.93" x2="392.94" y1="171.3" y2="47.3" stroke-opacity="0.12"/><line x1="393.59" x2="393.60" y1="171.3" y2="47.3" stroke-opacity="0.16"/><line x1="394.36" x2="394.37" y1="171.3" y2="47.3" stroke-opacity="0.08"/><line x1="395.07" x2="395.08" y1="171.3" y2="47.3" stroke-opacity="0.10"/><line x1="396.43" x2="396.44" y1="171.3" y2="47.3" stroke-opacity="0.12"/><line x1="397.09" x2="397.10" y1="171.3" y2="47.3" stroke-opacity="0.13"/><line x1="397.74" x2="397.75" y1="171.3" y2="47.3" stroke-opacity="0.14"/><line x1="398.46" x2="398.47" y1="171.3" y2="47.3" stroke-opacity="0.09"/><line x1="399.41" x2="399.42" y1="171.3" y2="47.3" stroke-opacity="0.10"/><line x1="400.57" x2="400.58" y1="171.3" y2="47.3" stroke-opacity="0.16"/><line x1="401.03" x2="401.04" y1="171.3" y2="47.3" stroke-opacity="0.17"/><line x1="401.76" x2="401.77" y1="171.3" y2="47.3" stroke-opacity="0.10"/><line x1="402.82" x2="402.83" y1="171.3" y2="47.3" stroke-opacity="0.18"/><line x1="403.62" x2="403.63" y1="171.3" y2="47.3" stroke-opacity="0.07"/><line x1="404.71" x2="404.72" y1="171.3" y2="47.3" stroke-opacity="0.16"/><line x1="405.45" x2="405.46" y1="171.3" y2="47.3" stroke-opacity="0.17"/><line x1="406.23" x2="406.24" y1="171.3" y2="47.3" stroke-opacity="0.12"/><line x1="407.41" x2="407.42" y1="171.3" y2="47.3" stroke-opacity="0.14"/><line x1="408.16" x2="408.17" y1="171.3" y2="47.3" stroke-opacity="0.06"/><line x1="408.50" x2="408.51" y1="171.3" y2="47.3" stroke-opacity="0.16"/><line x1="409.42" x2="409.43" y1="171.3" y2="47.3" stroke-opacity="0.14"/><line x1="410.37" x2="410.38" y1="171.3" y2="47.3" stroke-opacity="0.13"/><line x1="410.97" x2="410.98" y1="171.3" y2="47.3" stroke-opacity="0.13"/><line x1="412.28" x2="412.29" y1="171.3" y2="47.3" stroke-opacity="0.07"/><line x1="413.12" x2="413.13" y1="171.3" y2="47.3" stroke-opacity="0.16"/><line x1="413.63" x2="413.64" y1="171.3" y2="47.3" stroke-opacity="0.12"/><line x1="414.89" x2="414.90" y1="171.3" y2="47.3" stroke-opacity="0.13"/><line x1="415.48" x2="415.49" y1="171.3" y2="47.3" stroke-opacity="0.07"/><line x1="416.09" x2="416.10" y1="171.3" y2="47.3" stroke-opacity="0.13"/><line x1="417.20" x2="417.21" y1="171.3" y2="47.3" stroke-opacity="0.08"/><line x1="418.07" x2="418.08" y1="171.3" y2="47.3" stroke-opacity="0.15"/><line x1="418.94" x2="418.95" y1="171.3" y2="47.3" stroke-opacity="0.05"/><line x1="419.95" x2="419.96" y1="171.3" y2="47.3" stroke-opacity="0.07"/><line x1="420.75" x2="420.76" y1="171.3" y2="47.3" stroke-opacity="0.08"/><line x1="421.24" x2="421.25" y1="171.3" y2="47.3" stroke-opacity="0.10"/><line x1="422.09" x2="422.10" y1="171.3" y2="47.3" stroke-opacity="0.16"/><line x1="422.64" x2="422.65" y1="171.3" y2="47.3" stroke-opacity="0.05"/><line x1="423.75" x2="423.76" y1="171.3" y2="47.3" stroke-opacity="0.12"/><line x1="424.42" x2="424.43" y1="171.3" y2="47.3" stroke-opacity="0.05"/><line x1="425.22" x2="425.23" y1="171.3" y2="47.3" stroke-opacity="0.10"/><line x1="426.54" x2="426.55" y1="171.3" y2="47.3" stroke-opacity="0.09"/><line x1="426.82" x2="426.83" y1="171.3" y2="47.3" stroke-opacity="0.07"/><line x1="427.73" x2="427.74" y1="171.3" y2="47.3" stroke-opacity="0.11"/><line x1="428.94" x2="428.95" y1="171.3" y2="47.3" stroke-opacity="0.09"/><line x1="429.71" x2="429.72" y1="171.3" y2="47.3" stroke-opacity="0.08"/><line x1="430.45" x2="430.46" y1="171.3" y2="47.3" stroke-opacity="0.13"/><line x1="431.55" x2="431.56" y1="171.3" y2="47.3" stroke-opacity="0.08"/><line x1="431.99" x2="432.00" y1="171.3" y2="47.3" stroke-opacity="0.18"/><line x1="432.80" x2="432.81" y1="171.3" y2="47.3" stroke-opacity="0.08"/><line x1="433.85" x2="433.86" y1="171.3" y2="47.3" stroke-opacity="0.18"/><line x1="434.41" x2="434.42" y1="171.3" y2="47.3" stroke-opacity="0.07"/><line x1="435.65" x2="435.66" y1="171.3" y2="47.3" stroke-opacity="0.17"/><line x1="436.65" x2="436.66" y1="171.3" y2="47.3" stroke-opacity="0.06"/><line x1="437.40" x2="437.41" y1="171.3" y2="47.3" stroke-opacity="0.05"/><line x1="438.29" x2="438.30" y1="171.3" y2="47.3" stroke-opacity="0.06"/><line x1="438.57" x2="438.58" y1="171.3" y2="47.3" stroke-opacity="0.14"/><line x1="439.65" x2="439.66" y1="171.3" y2="47.3" stroke-opacity="0.08"/><line x1="440.81" x2="440.82" y1="171.3" y2="47.3" stroke-opacity="0.09"/><line x1="441.61" x2="441.62" y1="171.3" y2="47.3" stroke-opacity="0.14"/><line x1="442.27" x2="442.28" y1="171.3" y2="47.3" stroke-opacity="0.05"/><line x1="443.15" x2="443.16" y1="171.3" y2="47.3" stroke-opacity="0.12"/><line x1="443.72" x2="443.73" y1="171.3" y2="47.3" stroke-opacity="0.10"/><line x1="444.55" x2="444.56" y1="171.3" y2="47.3" stroke-opacity="0.07"/><line x1="445.25" x2="445.26" y1="171.3" y2="47.3" stroke-opacity="0.17"/><line x1="446.67" x2="446.68" y1="171.3" y2="47.3" stroke-opacity="0.10"/><line x1="447.08" x2="447.09" y1="171.3" y2="47.3" stroke-opacity="0.09"/><line x1="448.40" x2="448.41" y1="171.3" y2="47.3" stroke-opacity="0.14"/><line x1="448.56" x2="448.57" y1="171.3" y2="47.3" stroke-opacity="0.16"/><line x1="449.94" x2="449.95" y1="171.3" y2="47.3" stroke-opacity="0.08"/><line x1="450.59" x2="450.60" y1="171.3" y2="47.3" stroke-opacity="0.07"/><line x1="451.09" x2="451.10" y1="171.3" y2="47.3" stroke-opacity="0.17"/><line x1="452.36" x2="452.37" y1="171.3" y2="47.3" stroke-opacity="0.11"/><line x1="453.22" x2="453.23" y1="171.3" y2="47.3" stroke-opacity="0.12"/><line x1="454.05" x2="454.06" y1="171.3" y2="47.3" stroke-opacity="0.11"/><line x1="454.89" x2="454.90" y1="171.3" y2="47.3" stroke-opacity="0.16"/><line x1="455.71" x2="455.72" y1="171.3" y2="47.3" stroke-opacity="0.11"/><line x1="456.61" x2="456.62" y1="171.3" y2="47.3" stroke-opacity="0.15"/><line x1="457.18" x2="457.19" y1="171.3" y2="47.3" stroke-opacity="0.12"/><line x1="458.41" x2="458.42" y1="171.3" y2="47.3" stroke-opacity="0.06"/><line x1="458.92" x2="458.93" y1="171.3" y2="47.3" stroke-opacity="0.12"/><line x1="459.61" x2="459.62" y1="171.3" y2="47.3" stroke-opacity="0.16"/><line x1="460.95" x2="460.96" y1="171.3" y2="47.3" stroke-opacity="0.12"/><line x1="461.29" x2="461.30" y1="171.3" y2="47.3" stroke-opacity="0.10"/><line x1="462.24" x2="462.25" y1="171.3" y2="47.3" stroke-opacity="0.05"/><line x1="463.25" x2="463.26" y1="171.3" y2="47.3" stroke-opacity="0.14"/><line x1="464.16" x2="464.17" y1="171.3" y2="47.3" stroke-opacity="0.10"/><line x1="464.66" x2="464.67" y1="171.3" y2="47.3" stroke-opacity="0.09"/><line x1="465.30" x2="465.31" y1="171.3" y2="47.3" stroke-opacity="0.10"/><line x1="466.51" x2="466.52" y1="171.3" y2="47.3" stroke-opacity="0.10"/><line x1="467.36" x2="467.37" y1="171.3" y2="47.3" stroke-opacity="0.09"/><line x1="468.29" x2="468.30" y1="171.3" y2="47.3" stroke-opacity="0.09"/><line x1="468.80" x2="468.81" y1="171.3" y2="47.3" stroke-opacity="0.11"/><line x1="470.03" x2="470.04" y1="171.3" y2="47.3" stroke-opacity="0.06"/><line x1="470.83" x2="470.84" y1="171.3" y2="47.3" stroke-opacity="0.08"/><line x1="471.73" x2="471.74" y1="171.3" y2="47.3" stroke-opacity="0.11"/><line x1="472.49" x2="472.50" y1="171.3" y2="47.3" stroke-opacity="0.17"/><line x1="473.27" x2="473.28" y1="171.3" y2="47.3" stroke-opacity="0.11"/><line x1="474.02" x2="474.03" y1="171.3" y2="47.3" stroke-opacity="0.12"/><line x1="475.07" x2="475.08" y1="171.3" y2="47.3" stroke-opacity="0.17"/><line x1="475.47" x2="475.48" y1="171.3" y2="47.3" stroke-opacity="0.15"/><line x1="476.61" x2="476.62" y1="171.3" y2="47.3" stroke-opacity="0.14"/><line x1="477.53" x2="477.54" y1="171.3" y2="47.3" stroke-opacity="0.13"/><line x1="478.36" x2="478.37" y1="171.3" y2="47.3" stroke-opacity="0.13"/><line x1="478.75" x2="478.76" y1="171.3" y2="47.3" stroke-opacity="0.07"/><line x1="479.71" x2="479.72" y1="171.3" y2="47.3" stroke-opacity="0.07"/><line x1="480.97" x2="480.98" y1="171.3" y2="47.3" stroke-opacity="0.06"/><line x1="481.70" x2="481.71" y1="171.3" y2="47.3" stroke-opacity="0.06"/><line x1="482.11" x2="482.12" y1="171.3" y2="47.3" stroke-opacity="0.13"/><line x1="483.17" x2="483.18" y1="171.3" y2="47.3" stroke-opacity="0.13"/><line x1="484.24" x2="484.25" y1="171.3" y2="47.3" stroke-opacity="0.05"/><line x1="485.11" x2="485.12" y1="171.3" y2="47.3" stroke-opacity="0.16"/><line x1="485.71" x2="485.72" y1="171.3" y2="47.3" stroke-opacity="0.11"/><line x1="486.25" x2="486.26" y1="171.3" y2="47.3" stroke-opacity="0.12"/><line x1="487.17" x2="487.18" y1="171.3" y2="47.3" stroke-opacity="0.06"/><line x1="487.87" x2="487.88" y1="171.3" y2="47.3" stroke-opacity="0.16"/><line x1="488.81" x2="488.82" y1="171.3" y2="47.3" stroke-opacity="0.06"/><line x1="489.57" x2="489.58" y1="171.3" y2="47.3" stroke-opacity="0.08"/><line x1="490.85" x2="490.86" y1="171.3" y2="47.3" stroke-opacity="0.11"/><line x1="491.69" x2="491.70" y1="171.3" y2="47.3" stroke-opacity="0.11"/><line x1="492.34" x2="492.35" y1="171.3" y2="47.3" stroke-opacity="0.12"/><line x1="493.48" x2="493.49" y1="171.3" y2="47.3" stroke-opacity="0.17"/><line x1="493.81" x2="493.82" y1="171.3" y2="47.3" stroke-opacity="0.05"/><line x1="494.68" x2="494.69" y1="171.3" y2="47.3" stroke-opacity="0.14"/><line x1="495.81" x2="495.82" y1="171.3" y2="47.3" stroke-opacity="0.11"/><line x1="496.58" x2="496.59" y1="171.3" y2="47.3" stroke-opacity="0.16"/><line x1="497.14" x2="497.15" y1="171.3" y2="47.3" stroke-opacity="0.14"/><line x1="498.52" x2="498.53" y1="171.3" y2="47.3" stroke-opacity="0.16"/><line x1="499.16" x2="499.17" y1="171.3" y2="47.3" stroke-opacity="0.16"/><line x1="499.98" x2="499.99" y1="171.3" y2="47.3" stroke-opacity="0.15"/></g>
<g stroke="url(#dkc)" stroke-width="0.9"><line x1="377.37" x2="377.38" y1="174.7" y2="70.0" stroke-opacity="0.04"/><line x1="434.89" x2="434.90" y1="174.7" y2="70.0" stroke-opacity="0.06"/><line x1="468.43" x2="468.44" y1="174.7" y2="70.0" stroke-opacity="0.12"/><line x1="468.58" x2="468.59" y1="174.7" y2="70.0" stroke-opacity="0.11"/><line x1="490.27" x2="490.28" y1="174.7" y2="70.0" stroke-opacity="0.04"/><line x1="417.66" x2="417.67" y1="174.7" y2="70.0" stroke-opacity="0.10"/><line x1="359.85" x2="359.86" y1="174.7" y2="70.0" stroke-opacity="0.04"/><line x1="461.88" x2="461.89" y1="174.7" y2="70.0" stroke-opacity="0.12"/><line x1="398.09" x2="398.10" y1="174.7" y2="70.0" stroke-opacity="0.06"/><line x1="451.71" x2="451.72" y1="174.7" y2="70.0" stroke-opacity="0.09"/><line x1="365.54" x2="365.55" y1="174.7" y2="70.0" stroke-opacity="0.08"/><line x1="409.06" x2="409.07" y1="174.7" y2="70.0" stroke-opacity="0.08"/><line x1="448.52" x2="448.53" y1="174.7" y2="70.0" stroke-opacity="0.05"/><line x1="376.49" x2="376.50" y1="174.7" y2="70.0" stroke-opacity="0.07"/><line x1="403.63" x2="403.64" y1="174.7" y2="70.0" stroke-opacity="0.06"/><line x1="379.18" x2="379.19" y1="174.7" y2="70.0" stroke-opacity="0.09"/><line x1="485.16" x2="485.17" y1="174.7" y2="70.0" stroke-opacity="0.07"/><line x1="468.57" x2="468.58" y1="174.7" y2="70.0" stroke-opacity="0.09"/><line x1="449.28" x2="449.29" y1="174.7" y2="70.0" stroke-opacity="0.08"/><line x1="432.44" x2="432.45" y1="174.7" y2="70.0" stroke-opacity="0.10"/><line x1="497.45" x2="497.46" y1="174.7" y2="70.0" stroke-opacity="0.13"/><line x1="395.31" x2="395.32" y1="174.7" y2="70.0" stroke-opacity="0.08"/><line x1="458.80" x2="458.81" y1="174.7" y2="70.0" stroke-opacity="0.08"/><line x1="370.83" x2="370.84" y1="174.7" y2="70.0" stroke-opacity="0.09"/><line x1="446.88" x2="446.89" y1="174.7" y2="70.0" stroke-opacity="0.08"/><line x1="386.33" x2="386.34" y1="174.7" y2="70.0" stroke-opacity="0.07"/><line x1="359.92" x2="359.93" y1="174.7" y2="70.0" stroke-opacity="0.05"/><line x1="487.73" x2="487.74" y1="174.7" y2="70.0" stroke-opacity="0.08"/><line x1="398.26" x2="398.27" y1="174.7" y2="70.0" stroke-opacity="0.05"/><line x1="499.25" x2="499.26" y1="174.7" y2="70.0" stroke-opacity="0.10"/><line x1="455.15" x2="455.16" y1="174.7" y2="70.0" stroke-opacity="0.12"/><line x1="453.88" x2="453.89" y1="174.7" y2="70.0" stroke-opacity="0.11"/><line x1="454.24" x2="454.25" y1="174.7" y2="70.0" stroke-opacity="0.11"/><line x1="499.55" x2="499.56" y1="174.7" y2="70.0" stroke-opacity="0.05"/><line x1="390.50" x2="390.51" y1="174.7" y2="70.0" stroke-opacity="0.03"/><line x1="498.87" x2="498.88" y1="174.7" y2="70.0" stroke-opacity="0.05"/><line x1="404.27" x2="404.28" y1="174.7" y2="70.0" stroke-opacity="0.09"/><line x1="371.97" x2="371.98" y1="174.7" y2="70.0" stroke-opacity="0.04"/><line x1="489.59" x2="489.60" y1="174.7" y2="70.0" stroke-opacity="0.04"/><line x1="372.40" x2="372.41" y1="174.7" y2="70.0" stroke-opacity="0.13"/><line x1="426.10" x2="426.11" y1="174.7" y2="70.0" stroke-opacity="0.07"/><line x1="477.06" x2="477.07" y1="174.7" y2="70.0" stroke-opacity="0.04"/><line x1="397.87" x2="397.88" y1="174.7" y2="70.0" stroke-opacity="0.08"/><line x1="460.89" x2="460.90" y1="174.7" y2="70.0" stroke-opacity="0.10"/><line x1="449.76" x2="449.77" y1="174.7" y2="70.0" stroke-opacity="0.08"/><line x1="456.75" x2="456.76" y1="174.7" y2="70.0" stroke-opacity="0.04"/><line x1="379.99" x2="380.00" y1="174.7" y2="70.0" stroke-opacity="0.08"/><line x1="458.44" x2="458.45" y1="174.7" y2="70.0" stroke-opacity="0.04"/><line x1="477.86" x2="477.87" y1="174.7" y2="70.0" stroke-opacity="0.10"/><line x1="378.66" x2="378.67" y1="174.7" y2="70.0" stroke-opacity="0.12"/><line x1="495.05" x2="495.06" y1="174.7" y2="70.0" stroke-opacity="0.03"/><line x1="493.78" x2="493.79" y1="174.7" y2="70.0" stroke-opacity="0.09"/><line x1="403.88" x2="403.89" y1="174.7" y2="70.0" stroke-opacity="0.11"/><line x1="494.29" x2="494.30" y1="174.7" y2="70.0" stroke-opacity="0.09"/><line x1="491.89" x2="491.90" y1="174.7" y2="70.0" stroke-opacity="0.04"/><line x1="375.14" x2="375.15" y1="174.7" y2="70.0" stroke-opacity="0.04"/><line x1="464.27" x2="464.28" y1="174.7" y2="70.0" stroke-opacity="0.08"/><line x1="495.30" x2="495.31" y1="174.7" y2="70.0" stroke-opacity="0.03"/><line x1="475.57" x2="475.58" y1="174.7" y2="70.0" stroke-opacity="0.11"/><line x1="377.43" x2="377.44" y1="174.7" y2="70.0" stroke-opacity="0.08"/><line x1="416.52" x2="416.53" y1="174.7" y2="70.0" stroke-opacity="0.06"/><line x1="438.70" x2="438.71" y1="174.7" y2="70.0" stroke-opacity="0.11"/><line x1="411.34" x2="411.35" y1="174.7" y2="70.0" stroke-opacity="0.05"/><line x1="413.38" x2="413.39" y1="174.7" y2="70.0" stroke-opacity="0.08"/><line x1="372.27" x2="372.28" y1="174.7" y2="70.0" stroke-opacity="0.08"/><line x1="359.59" x2="359.60" y1="174.7" y2="70.0" stroke-opacity="0.04"/><line x1="402.07" x2="402.08" y1="174.7" y2="70.0" stroke-opacity="0.11"/><line x1="418.73" x2="418.74" y1="174.7" y2="70.0" stroke-opacity="0.10"/><line x1="440.80" x2="440.81" y1="174.7" y2="70.0" stroke-opacity="0.05"/><line x1="494.29" x2="494.30" y1="174.7" y2="70.0" stroke-opacity="0.07"/></g>
<line x1="331.9" x2="331.9" y1="175.1" y2="15.4" stroke="#777" stroke-width="0.6"/>
<line x1="331.9" x2="533.8" y1="175.1" y2="175.1" stroke="#888" stroke-width="0.6"/>
<text class="tk" transform="translate(328.4,177.0) scale(1.07,1)" font-size="7.4" text-anchor="end">0</text>
<line x1="331.9" x2="333.9" y1="174.70" y2="174.70" stroke="#777" stroke-width="0.6"/>
<text class="tk" transform="translate(328.4,154.2) scale(1.07,1)" font-size="7.4" text-anchor="end">20</text>
<line x1="331.9" x2="333.9" y1="151.94" y2="151.94" stroke="#777" stroke-width="0.6"/>
<text class="tk" transform="translate(328.4,131.5) scale(1.07,1)" font-size="7.4" text-anchor="end">40</text>
<line x1="331.9" x2="333.9" y1="129.19" y2="129.19" stroke="#777" stroke-width="0.6"/>
<text class="tk" transform="translate(328.4,108.7) scale(1.07,1)" font-size="7.4" text-anchor="end">60</text>
<line x1="331.9" x2="333.9" y1="106.43" y2="106.43" stroke="#777" stroke-width="0.6"/>
<text class="tk" transform="translate(328.4,86.0) scale(1.07,1)" font-size="7.4" text-anchor="end">80</text>
<line x1="331.9" x2="333.9" y1="83.67" y2="83.67" stroke="#777" stroke-width="0.6"/>
<text class="tk" transform="translate(328.4,63.2) scale(1.07,1)" font-size="7.4" text-anchor="end">100</text>
<line x1="331.9" x2="333.9" y1="60.91" y2="60.91" stroke="#777" stroke-width="0.6"/>
<text class="tk" transform="translate(328.4,40.5) scale(1.07,1)" font-size="7.4" text-anchor="end">120</text>
<line x1="331.9" x2="333.9" y1="38.16" y2="38.16" stroke="#777" stroke-width="0.6"/>
<text class="tk" transform="translate(328.4,17.7) scale(1.07,1)" font-size="7.4" text-anchor="end">140</text>
<line x1="331.9" x2="333.9" y1="15.40" y2="15.40" stroke="#777" stroke-width="0.6"/>
<text class="tk" transform="translate(331.9,184.5) scale(1.07,1)" font-size="7.4" text-anchor="middle">0</text>
<text class="tk" transform="translate(360.7,184.5) scale(1.07,1)" font-size="7.4" text-anchor="middle">200</text>
<text class="tk" transform="translate(389.6,184.5) scale(1.07,1)" font-size="7.4" text-anchor="middle">400</text>
<text class="tk" transform="translate(418.4,184.5) scale(1.07,1)" font-size="7.4" text-anchor="middle">600</text>
<text class="tk" transform="translate(447.3,184.5) scale(1.07,1)" font-size="7.4" text-anchor="middle">800</text>
<text class="tk" transform="translate(476.1,184.5) scale(1.07,1)" font-size="7.4" text-anchor="middle">1000</text>
<text class="tk" transform="translate(505.0,184.5) scale(1.07,1)" font-size="7.4" text-anchor="middle">1200</text>
<text class="tk" transform="translate(533.8,184.5) scale(1.07,1)" font-size="7.4" text-anchor="middle">1400</text>
<text transform="translate(310.9,94.9) rotate(-90)" font-size="10.5" text-anchor="middle" textLength="37.2" lengthAdjust="spacingAndGlyphs">Intensity</text>
<text x="512.2" y="28.3" font-size="12.0" text-anchor="start" textLength="14.1" lengthAdjust="spacingAndGlyphs" style="stroke-width:0.55px">(c)</text>
<line x1="334.0" x2="535.5" y1="374.40" y2="374.40" stroke="#f1f1f1" stroke-width="0.8"/>
<line x1="334.0" x2="535.5" y1="351.69" y2="351.69" stroke="#f1f1f1" stroke-width="0.8"/>
<line x1="334.0" x2="535.5" y1="328.97" y2="328.97" stroke="#f1f1f1" stroke-width="0.8"/>
<line x1="334.0" x2="535.5" y1="306.26" y2="306.26" stroke="#f1f1f1" stroke-width="0.8"/>
<line x1="334.0" x2="535.5" y1="283.54" y2="283.54" stroke="#f1f1f1" stroke-width="0.8"/>
<line x1="334.0" x2="535.5" y1="260.83" y2="260.83" stroke="#f1f1f1" stroke-width="0.8"/>
<line x1="334.0" x2="535.5" y1="238.11" y2="238.11" stroke="#f1f1f1" stroke-width="0.8"/>
<line x1="334.0" x2="535.5" y1="215.40" y2="215.40" stroke="#f1f1f1" stroke-width="0.8"/>
<line x1="334.00" x2="334.00" y1="374.4" y2="215.4" stroke="#f1f1f1" stroke-width="0.8"/>
<line x1="367.58" x2="367.58" y1="374.4" y2="215.4" stroke="#f1f1f1" stroke-width="0.8"/>
<line x1="401.17" x2="401.17" y1="374.4" y2="215.4" stroke="#f1f1f1" stroke-width="0.8"/>
<line x1="434.75" x2="434.75" y1="374.4" y2="215.4" stroke="#f1f1f1" stroke-width="0.8"/>
<line x1="468.33" x2="468.33" y1="374.4" y2="215.4" stroke="#f1f1f1" stroke-width="0.8"/>
<line x1="501.92" x2="501.92" y1="374.4" y2="215.4" stroke="#f1f1f1" stroke-width="0.8"/>
<line x1="535.50" x2="535.50" y1="374.4" y2="215.4" stroke="#f1f1f1" stroke-width="0.8"/>
<polygon points="334.00,374.40 334.00,372.29 334.50,371.94 335.01,372.09 335.51,371.93 336.01,372.03 336.52,372.02 337.02,372.29 337.53,371.99 338.03,372.28 338.53,372.00 339.04,372.07 339.54,372.18 340.05,372.37 340.55,372.13 341.05,372.11 341.56,372.08 342.06,372.43 342.56,372.33 343.07,372.15 343.57,371.99 344.07,372.34 344.58,371.96 345.08,371.92 345.59,372.42 346.09,372.06 346.59,372.24 347.10,372.39 347.60,372.34 348.11,372.26 348.61,372.46 349.11,372.07 349.62,372.21 350.12,372.27 350.62,371.98 351.13,371.92 351.63,372.21 352.13,372.29 352.64,372.13 353.14,372.24 353.65,371.96 354.15,372.31 354.65,372.40 355.16,372.46 355.66,372.37 356.17,372.42 356.67,371.95 357.17,372.08 357.68,372.14 358.18,371.93 358.68,372.12 359.19,372.07 359.69,372.38 360.19,372.31 360.70,372.12 361.20,371.99 361.71,372.31 362.21,372.21 362.71,372.31 363.22,372.31 363.72,372.14 364.23,371.95 364.73,371.91 365.23,372.15 365.74,372.46 366.24,372.31 366.74,372.10 367.25,371.94 367.75,372.39 368.25,372.00 368.76,371.97 369.26,372.42 369.77,371.96 370.27,372.13 370.77,371.99 371.28,372.09 371.78,372.08 372.62,372.13 372.79,366.45 374.47,364.75 374.72,260.83 374.84,253.17 375.59,249.77 376.35,253.17 376.41,260.15 377.21,256.74 378.01,260.15 378.07,252.49 378.59,249.08 379.10,252.49 379.14,256.15 379.57,252.75 380.00,256.15 380.04,259.73 380.67,256.33 381.30,259.73 381.35,254.08 381.84,250.68 382.33,254.08 382.38,258.47 382.98,255.06 383.58,258.47 383.62,250.76 384.04,247.35 384.46,250.76 384.51,268.40 385.12,264.99 385.74,268.40 385.80,252.41 386.59,249.00 387.38,252.41 387.45,272.26 388.27,268.85 389.08,272.26 389.15,252.08 389.91,248.67 390.67,252.08 390.73,278.62 391.47,275.21 392.22,278.62 392.27,256.21 392.78,252.80 393.30,256.21 393.34,256.06 393.77,252.65 394.20,256.06 394.25,251.96 394.87,248.55 395.49,251.96 395.54,259.84 396.10,256.43 396.66,259.84 396.71,252.74 397.18,249.34 397.65,252.74 397.69,259.15 398.11,255.74 398.52,259.15 398.57,260.45 399.26,257.05 399.96,260.45 400.01,254.87 400.57,251.46 401.14,254.87 401.20,251.94 402.00,248.54 402.81,251.94 402.87,258.38 403.36,254.97 403.85,258.38 403.89,254.13 404.60,250.72 405.30,254.13 405.36,249.52 405.99,246.12 406.63,249.52 406.68,251.99 407.16,248.58 407.64,251.99 407.68,251.46 408.21,248.05 408.75,251.46 408.80,249.65 409.48,246.24 410.15,249.65 410.20,251.89 410.65,248.49 411.11,251.89 411.15,258.41 411.67,255.01 412.20,258.41 412.24,249.79 412.66,246.38 413.08,249.79 413.12,261.38 413.51,257.97 413.90,261.38 413.93,256.95 414.43,253.54 414.93,256.95 414.99,254.92 415.75,251.52 416.52,254.92 416.57,271.65 416.96,268.24 417.35,271.65 417.39,250.77 417.78,247.36 418.17,250.77 418.20,250.43 418.57,247.02 418.94,250.43 418.98,256.69 419.46,253.28 419.95,256.69 419.99,250.73 420.42,247.33 420.85,250.73 420.89,253.15 421.59,249.74 422.29,253.15 422.34,250.07 423.01,246.66 423.68,250.07 423.74,256.68 424.37,253.27 425.00,256.68 425.06,268.39 425.79,264.98 426.52,268.39 426.58,276.95 427.08,273.55 427.58,276.95 427.63,255.69 428.36,252.28 429.10,255.69 429.15,256.81 429.77,253.40 430.38,256.81 430.44,259.24 431.10,255.83 431.76,259.24 431.81,263.76 432.29,260.35 432.76,263.76 432.81,261.35 433.39,257.95 433.97,261.35 434.01,254.71 434.42,251.31 434.82,254.71 434.86,255.39 435.46,251.98 436.05,255.39 436.10,250.24 436.78,246.83 437.45,250.24 437.51,260.35 438.17,256.95 438.84,260.35 438.89,249.60 439.43,246.19 439.98,249.60 440.02,249.55 440.51,246.14 441.01,249.55 441.05,254.59 441.56,251.18 442.08,254.59 442.12,267.89 442.57,264.49 443.02,267.89 443.06,253.06 443.57,249.65 444.08,253.06 444.13,258.81 444.69,255.40 445.26,258.81 445.31,250.59 446.06,247.19 446.81,250.59 446.87,250.11 447.46,246.70 448.04,250.11 448.10,258.08 448.87,254.68 449.64,258.08 449.69,263.05 450.31,259.65 450.92,263.05 450.97,256.94 451.60,253.53 452.23,256.94 452.28,255.19 452.91,251.78 453.54,255.19 453.59,251.15 454.06,247.74 454.53,251.15 454.58,262.79 455.14,259.38 455.70,262.79 455.74,250.14 456.21,246.73 456.68,250.14 456.73,257.11 457.41,253.70 458.09,257.11 458.15,251.10 458.95,247.69 459.75,251.10 459.80,256.69 460.27,253.28 460.74,256.69 460.78,249.74 461.31,246.33 461.83,249.74 461.89,259.93 462.60,256.52 463.32,259.93 463.38,253.61 463.94,250.20 464.51,253.61 464.56,253.24 465.27,249.84 465.97,253.24 466.02,250.93 466.58,247.52 467.13,250.93 467.17,266.41 467.62,263.00 468.07,266.41 468.12,255.68 468.82,252.27 469.52,255.68 469.58,249.75 470.32,246.34 471.06,249.75 471.11,255.99 471.48,252.58 471.85,255.99 471.89,263.64 472.47,260.23 473.06,263.64 473.10,255.37 473.60,251.96 474.10,255.37 474.14,250.47 474.57,247.06 475.00,250.47 475.04,249.94 475.55,246.53 476.07,249.94 476.11,255.57 476.47,252.16 476.84,255.57 476.87,272.10 477.36,268.69 477.84,272.10 477.89,266.18 478.54,262.77 479.20,266.18 479.24,269.08 479.60,265.67 479.96,269.08 480.00,262.26 480.61,258.85 481.23,262.26 481.27,268.31 481.61,264.91 481.95,268.31 481.98,266.76 482.44,263.35 482.89,266.76 482.94,262.19 483.75,258.79 484.55,262.19 484.62,259.12 485.36,255.72 486.09,259.12 486.14,253.29 486.56,249.88 486.97,253.29 487.01,251.86 487.66,248.45 488.31,251.86 488.36,250.40 488.73,246.99 489.11,250.40 489.15,251.36 489.73,247.95 490.32,251.36 490.36,253.54 490.89,250.13 491.41,253.54 491.45,250.13 491.97,246.73 492.48,250.13 492.52,273.18 492.86,269.77 493.21,273.18 493.02,263.10 493.27,287.80 493.52,310.02 493.77,329.54 494.02,346.09 494.28,359.25 494.53,368.28 494.70,372.07 495.20,372.36 495.70,372.44 496.21,365.88 496.71,365.88 497.22,372.09 497.72,371.92 498.22,372.28 498.73,371.86 499.23,372.44 499.73,371.81 500.24,372.20 500.74,372.06 501.25,372.38 501.75,372.13 502.25,370.90 502.76,371.06 503.26,371.99 503.76,371.82 504.27,371.00 504.77,372.00 505.27,371.84 505.78,372.17 506.28,372.26 506.79,372.34 507.29,371.92 507.79,371.82 508.30,371.85 508.80,370.78 509.31,372.12 509.81,371.97 510.31,372.04 510.82,372.41 511.32,371.87 511.82,372.42 512.33,372.39 512.83,372.19 513.34,371.91 513.84,372.11 514.34,372.19 514.85,372.18 515.35,372.25 515.85,372.34 516.36,372.00 516.86,371.83 517.37,372.37 517.87,372.12 518.37,371.88 518.88,372.07 519.38,370.96 519.88,372.31 520.39,371.96 520.89,371.94 521.39,372.32 521.90,372.28 522.40,372.21 522.91,371.96 523.41,371.98 523.91,372.41 524.42,372.05 524.92,372.16 525.42,371.98 525.93,372.09 526.43,372.46 526.94,372.23 527.44,372.28 527.94,372.13 528.45,371.87 528.95,371.81 529.46,371.94 529.96,372.39 530.46,372.08 530.97,372.04 531.47,370.66 531.97,371.84 532.48,371.92 532.98,370.70 533.49,372.09 533.99,372.21 534.49,370.78 535.00,371.08 535.50,372.24 535.50,374.40" fill="url(#gd)"/>
<g stroke="url(#std)" stroke-width="0.8"><line x1="375.03" x2="375.04" y1="372.1" y2="256.3" stroke-opacity="0.06"/><line x1="376.13" x2="376.14" y1="372.1" y2="256.3" stroke-opacity="0.09"/><line x1="376.81" x2="376.82" y1="372.1" y2="256.3" stroke-opacity="0.16"/><line x1="377.64" x2="377.65" y1="372.1" y2="256.3" stroke-opacity="0.13"/><line x1="378.39" x2="378.40" y1="372.1" y2="256.3" stroke-opacity="0.10"/><line x1="378.89" x2="378.90" y1="372.1" y2="256.3" stroke-opacity="0.15"/><line x1="380.11" x2="380.12" y1="372.1" y2="256.3" stroke-opacity="0.10"/><line x1="380.61" x2="380.62" y1="372.1" y2="256.3" stroke-opacity="0.07"/><line x1="381.73" x2="381.74" y1="372.1" y2="256.3" stroke-opacity="0.18"/><line x1="381.93" x2="381.94" y1="372.1" y2="256.3" stroke-opacity="0.16"/><line x1="382.78" x2="382.79" y1="372.1" y2="256.3" stroke-opacity="0.15"/><line x1="383.58" x2="383.59" y1="372.1" y2="256.3" stroke-opacity="0.09"/><line x1="384.75" x2="384.76" y1="372.1" y2="256.3" stroke-opacity="0.12"/><line x1="385.14" x2="385.15" y1="372.1" y2="256.3" stroke-opacity="0.06"/><line x1="386.14" x2="386.15" y1="372.1" y2="256.3" stroke-opacity="0.05"/><line x1="386.98" x2="386.99" y1="372.1" y2="256.3" stroke-opacity="0.17"/><line x1="387.77" x2="387.78" y1="372.1" y2="256.3" stroke-opacity="0.10"/><line x1="388.42" x2="388.43" y1="372.1" y2="256.3" stroke-opacity="0.08"/><line x1="389.58" x2="389.59" y1="372.1" y2="256.3" stroke-opacity="0.15"/><line x1="390.10" x2="390.11" y1="372.1" y2="256.3" stroke-opacity="0.12"/><line x1="390.71" x2="390.72" y1="372.1" y2="256.3" stroke-opacity="0.14"/><line x1="391.74" x2="391.75" y1="372.1" y2="256.3" stroke-opacity="0.06"/><line x1="392.25" x2="392.26" y1="372.1" y2="256.3" stroke-opacity="0.11"/><line x1="393.39" x2="393.40" y1="372.1" y2="256.3" stroke-opacity="0.10"/><line x1="393.86" x2="393.87" y1="372.1" y2="256.3" stroke-opacity="0.09"/><line x1="395.11" x2="395.12" y1="372.1" y2="256.3" stroke-opacity="0.07"/><line x1="395.38" x2="395.39" y1="372.1" y2="256.3" stroke-opacity="0.16"/><line x1="396.32" x2="396.33" y1="372.1" y2="256.3" stroke-opacity="0.15"/><line x1="397.05" x2="397.06" y1="372.1" y2="256.3" stroke-opacity="0.12"/><line x1="398.06" x2="398.07" y1="372.1" y2="256.3" stroke-opacity="0.09"/><line x1="398.75" x2="398.76" y1="372.1" y2="256.3" stroke-opacity="0.13"/><line x1="399.56" x2="399.57" y1="372.1" y2="256.3" stroke-opacity="0.10"/><line x1="400.35" x2="400.36" y1="372.1" y2="256.3" stroke-opacity="0.05"/><line x1="401.24" x2="401.25" y1="372.1" y2="256.3" stroke-opacity="0.13"/><line x1="401.81" x2="401.82" y1="372.1" y2="256.3" stroke-opacity="0.14"/><line x1="402.64" x2="402.65" y1="372.1" y2="256.3" stroke-opacity="0.18"/><line x1="403.38" x2="403.39" y1="372.1" y2="256.3" stroke-opacity="0.16"/><line x1="404.10" x2="404.11" y1="372.1" y2="256.3" stroke-opacity="0.06"/><line x1="405.20" x2="405.21" y1="372.1" y2="256.3" stroke-opacity="0.09"/><line x1="406.18" x2="406.19" y1="372.1" y2="256.3" stroke-opacity="0.06"/><line x1="406.95" x2="406.96" y1="372.1" y2="256.3" stroke-opacity="0.06"/><line x1="407.78" x2="407.79" y1="372.1" y2="256.3" stroke-opacity="0.11"/><line x1="408.02" x2="408.03" y1="372.1" y2="256.3" stroke-opacity="0.08"/><line x1="409.20" x2="409.21" y1="372.1" y2="256.3" stroke-opacity="0.06"/><line x1="409.58" x2="409.59" y1="372.1" y2="256.3" stroke-opacity="0.13"/><line x1="410.84" x2="410.85" y1="372.1" y2="256.3" stroke-opacity="0.17"/><line x1="411.65" x2="411.66" y1="372.1" y2="256.3" stroke-opacity="0.16"/><line x1="412.20" x2="412.21" y1="372.1" y2="256.3" stroke-opacity="0.06"/><line x1="413.32" x2="413.33" y1="372.1" y2="256.3" stroke-opacity="0.09"/><line x1="413.77" x2="413.78" y1="372.1" y2="256.3" stroke-opacity="0.05"/><line x1="414.61" x2="414.62" y1="372.1" y2="256.3" stroke-opacity="0.10"/><line x1="415.27" x2="415.28" y1="372.1" y2="256.3" stroke-opacity="0.17"/><line x1="416.36" x2="416.37" y1="372.1" y2="256.3" stroke-opacity="0.08"/><line x1="416.99" x2="417.00" y1="372.1" y2="256.3" stroke-opacity="0.14"/><line x1="417.74" x2="417.75" y1="372.1" y2="256.3" stroke-opacity="0.11"/><line x1="418.48" x2="418.49" y1="372.1" y2="256.3" stroke-opacity="0.12"/><line x1="419.48" x2="419.49" y1="372.1" y2="256.3" stroke-opacity="0.16"/><line x1="419.83" x2="419.84" y1="372.1" y2="256.3" stroke-opacity="0.09"/><line x1="420.98" x2="420.99" y1="372.1" y2="256.3" stroke-opacity="0.09"/><line x1="421.41" x2="421.42" y1="372.1" y2="256.3" stroke-opacity="0.15"/><line x1="422.29" x2="422.30" y1="372.1" y2="256.3" stroke-opacity="0.07"/><line x1="422.96" x2="422.97" y1="372.1" y2="256.3" stroke-opacity="0.06"/><line x1="424.06" x2="424.07" y1="372.1" y2="256.3" stroke-opacity="0.10"/><line x1="425.12" x2="425.13" y1="372.1" y2="256.3" stroke-opacity="0.10"/><line x1="425.44" x2="425.45" y1="372.1" y2="256.3" stroke-opacity="0.09"/><line x1="426.17" x2="426.18" y1="372.1" y2="256.3" stroke-opacity="0.08"/><line x1="427.22" x2="427.23" y1="372.1" y2="256.3" stroke-opacity="0.16"/><line x1="427.69" x2="427.70" y1="372.1" y2="256.3" stroke-opacity="0.10"/><line x1="428.69" x2="428.70" y1="372.1" y2="256.3" stroke-opacity="0.09"/><line x1="429.54" x2="429.55" y1="372.1" y2="256.3" stroke-opacity="0.15"/><line x1="430.09" x2="430.10" y1="372.1" y2="256.3" stroke-opacity="0.16"/><line x1="431.40" x2="431.41" y1="372.1" y2="256.3" stroke-opacity="0.14"/><line x1="431.86" x2="431.87" y1="372.1" y2="256.3" stroke-opacity="0.18"/><line x1="432.78" x2="432.79" y1="372.1" y2="256.3" stroke-opacity="0.07"/><line x1="433.27" x2="433.28" y1="372.1" y2="256.3" stroke-opacity="0.11"/><line x1="434.60" x2="434.61" y1="372.1" y2="256.3" stroke-opacity="0.16"/><line x1="434.89" x2="434.90" y1="372.1" y2="256.3" stroke-opacity="0.18"/><line x1="435.86" x2="435.87" y1="372.1" y2="256.3" stroke-opacity="0.08"/><line x1="436.41" x2="436.42" y1="372.1" y2="256.3" stroke-opacity="0.15"/><line x1="437.24" x2="437.25" y1="372.1" y2="256.3" stroke-opacity="0.08"/><line x1="438.02" x2="438.03" y1="372.1" y2="256.3" stroke-opacity="0.10"/><line x1="438.97" x2="438.98" y1="372.1" y2="256.3" stroke-opacity="0.15"/><line x1="439.56" x2="439.57" y1="372.1" y2="256.3" stroke-opacity="0.15"/><line x1="440.59" x2="440.60" y1="372.1" y2="256.3" stroke-opacity="0.06"/><line x1="441.45" x2="441.46" y1="372.1" y2="256.3" stroke-opacity="0.08"/><line x1="442.00" x2="442.01" y1="372.1" y2="256.3" stroke-opacity="0.18"/><line x1="443.15" x2="443.16" y1="372.1" y2="256.3" stroke-opacity="0.12"/><line x1="443.50" x2="443.51" y1="372.1" y2="256.3" stroke-opacity="0.13"/><line x1="444.61" x2="444.62" y1="372.1" y2="256.3" stroke-opacity="0.08"/><line x1="445.55" x2="445.56" y1="372.1" y2="256.3" stroke-opacity="0.11"/><line x1="446.21" x2="446.22" y1="372.1" y2="256.3" stroke-opacity="0.09"/><line x1="446.61" x2="446.62" y1="372.1" y2="256.3" stroke-opacity="0.07"/><line x1="447.44" x2="447.45" y1="372.1" y2="256.3" stroke-opacity="0.09"/><line x1="448.21" x2="448.22" y1="372.1" y2="256.3" stroke-opacity="0.12"/><line x1="449.06" x2="449.07" y1="372.1" y2="256.3" stroke-opacity="0.12"/><line x1="450.10" x2="450.11" y1="372.1" y2="256.3" stroke-opacity="0.12"/><line x1="451.16" x2="451.17" y1="372.1" y2="256.3" stroke-opacity="0.09"/><line x1="451.58" x2="451.59" y1="372.1" y2="256.3" stroke-opacity="0.11"/><line x1="452.63" x2="452.64" y1="372.1" y2="256.3" stroke-opacity="0.16"/><line x1="453.09" x2="453.10" y1="372.1" y2="256.3" stroke-opacity="0.17"/><line x1="454.33" x2="454.34" y1="372.1" y2="256.3" stroke-opacity="0.17"/><line x1="454.74" x2="454.75" y1="372.1" y2="256.3" stroke-opacity="0.08"/><line x1="455.41" x2="455.42" y1="372.1" y2="256.3" stroke-opacity="0.13"/><line x1="456.20" x2="456.21" y1="372.1" y2="256.3" stroke-opacity="0.15"/><line x1="456.94" x2="456.95" y1="372.1" y2="256.3" stroke-opacity="0.09"/><line x1="457.70" x2="457.71" y1="372.1" y2="256.3" stroke-opacity="0.11"/><line x1="459.03" x2="459.04" y1="372.1" y2="256.3" stroke-opacity="0.16"/><line x1="459.69" x2="459.70" y1="372.1" y2="256.3" stroke-opacity="0.14"/><line x1="460.11" x2="460.12" y1="372.1" y2="256.3" stroke-opacity="0.14"/><line x1="461.19" x2="461.20" y1="372.1" y2="256.3" stroke-opacity="0.06"/><line x1="461.89" x2="461.90" y1="372.1" y2="256.3" stroke-opacity="0.06"/><line x1="462.43" x2="462.44" y1="372.1" y2="256.3" stroke-opacity="0.14"/><line x1="463.80" x2="463.81" y1="372.1" y2="256.3" stroke-opacity="0.12"/><line x1="464.11" x2="464.12" y1="372.1" y2="256.3" stroke-opacity="0.07"/><line x1="465.12" x2="465.13" y1="372.1" y2="256.3" stroke-opacity="0.05"/><line x1="465.77" x2="465.78" y1="372.1" y2="256.3" stroke-opacity="0.08"/><line x1="466.64" x2="466.65" y1="372.1" y2="256.3" stroke-opacity="0.13"/><line x1="467.75" x2="467.76" y1="372.1" y2="256.3" stroke-opacity="0.10"/><line x1="468.40" x2="468.41" y1="372.1" y2="256.3" stroke-opacity="0.13"/><line x1="468.85" x2="468.86" y1="372.1" y2="256.3" stroke-opacity="0.07"/><line x1="469.93" x2="469.94" y1="372.1" y2="256.3" stroke-opacity="0.13"/><line x1="470.57" x2="470.58" y1="372.1" y2="256.3" stroke-opacity="0.06"/><line x1="471.21" x2="471.22" y1="372.1" y2="256.3" stroke-opacity="0.17"/><line x1="472.21" x2="472.22" y1="372.1" y2="256.3" stroke-opacity="0.08"/><line x1="472.79" x2="472.80" y1="372.1" y2="256.3" stroke-opacity="0.05"/><line x1="473.95" x2="473.96" y1="372.1" y2="256.3" stroke-opacity="0.15"/><line x1="474.41" x2="474.42" y1="372.1" y2="256.3" stroke-opacity="0.09"/><line x1="475.07" x2="475.08" y1="372.1" y2="256.3" stroke-opacity="0.10"/><line x1="476.35" x2="476.36" y1="372.1" y2="256.3" stroke-opacity="0.07"/><line x1="476.69" x2="476.70" y1="372.1" y2="256.3" stroke-opacity="0.08"/><line x1="477.83" x2="477.84" y1="372.1" y2="256.3" stroke-opacity="0.10"/><line x1="478.72" x2="478.73" y1="372.1" y2="256.3" stroke-opacity="0.09"/><line x1="479.42" x2="479.43" y1="372.1" y2="256.3" stroke-opacity="0.12"/><line x1="480.35" x2="480.36" y1="372.1" y2="256.3" stroke-opacity="0.08"/><line x1="480.70" x2="480.71" y1="372.1" y2="256.3" stroke-opacity="0.11"/><line x1="481.56" x2="481.57" y1="372.1" y2="256.3" stroke-opacity="0.05"/><line x1="482.51" x2="482.52" y1="372.1" y2="256.3" stroke-opacity="0.12"/><line x1="482.97" x2="482.98" y1="372.1" y2="256.3" stroke-opacity="0.13"/><line x1="484.32" x2="484.33" y1="372.1" y2="256.3" stroke-opacity="0.17"/><line x1="484.89" x2="484.90" y1="372.1" y2="256.3" stroke-opacity="0.14"/><line x1="485.70" x2="485.71" y1="372.1" y2="256.3" stroke-opacity="0.06"/><line x1="486.42" x2="486.43" y1="372.1" y2="256.3" stroke-opacity="0.10"/><line x1="487.16" x2="487.17" y1="372.1" y2="256.3" stroke-opacity="0.15"/><line x1="487.75" x2="487.76" y1="372.1" y2="256.3" stroke-opacity="0.14"/><line x1="488.49" x2="488.50" y1="372.1" y2="256.3" stroke-opacity="0.06"/><line x1="489.37" x2="489.38" y1="372.1" y2="256.3" stroke-opacity="0.05"/><line x1="490.01" x2="490.02" y1="372.1" y2="256.3" stroke-opacity="0.11"/><line x1="491.18" x2="491.19" y1="372.1" y2="256.3" stroke-opacity="0.11"/><line x1="491.69" x2="491.70" y1="372.1" y2="256.3" stroke-opacity="0.07"/><line x1="492.95" x2="492.96" y1="372.1" y2="256.3" stroke-opacity="0.08"/></g>
<g stroke="url(#dkd)" stroke-width="0.9"><line x1="416.23" x2="416.24" y1="374.4" y2="269.9" stroke-opacity="0.10"/><line x1="467.67" x2="467.68" y1="374.4" y2="269.9" stroke-opacity="0.03"/><line x1="405.62" x2="405.63" y1="374.4" y2="269.9" stroke-opacity="0.13"/><line x1="469.84" x2="469.85" y1="374.4" y2="269.9" stroke-opacity="0.05"/><line x1="473.90" x2="473.91" y1="374.4" y2="269.9" stroke-opacity="0.12"/><line x1="404.15" x2="404.16" y1="374.4" y2="269.9" stroke-opacity="0.10"/><line x1="475.38" x2="475.39" y1="374.4" y2="269.9" stroke-opacity="0.12"/><line x1="384.63" x2="384.64" y1="374.4" y2="269.9" stroke-opacity="0.07"/><line x1="420.10" x2="420.11" y1="374.4" y2="269.9" stroke-opacity="0.06"/><line x1="386.83" x2="386.84" y1="374.4" y2="269.9" stroke-opacity="0.09"/><line x1="413.13" x2="413.14" y1="374.4" y2="269.9" stroke-opacity="0.05"/><line x1="408.42" x2="408.43" y1="374.4" y2="269.9" stroke-opacity="0.07"/><line x1="464.62" x2="464.63" y1="374.4" y2="269.9" stroke-opacity="0.08"/><line x1="472.97" x2="472.98" y1="374.4" y2="269.9" stroke-opacity="0.04"/><line x1="414.39" x2="414.40" y1="374.4" y2="269.9" stroke-opacity="0.11"/><line x1="415.01" x2="415.02" y1="374.4" y2="269.9" stroke-opacity="0.08"/><line x1="488.53" x2="488.54" y1="374.4" y2="269.9" stroke-opacity="0.08"/><line x1="394.23" x2="394.24" y1="374.4" y2="269.9" stroke-opacity="0.10"/><line x1="430.75" x2="430.76" y1="374.4" y2="269.9" stroke-opacity="0.12"/><line x1="444.72" x2="444.73" y1="374.4" y2="269.9" stroke-opacity="0.04"/><line x1="452.47" x2="452.48" y1="374.4" y2="269.9" stroke-opacity="0.05"/><line x1="393.19" x2="393.20" y1="374.4" y2="269.9" stroke-opacity="0.04"/><line x1="412.41" x2="412.42" y1="374.4" y2="269.9" stroke-opacity="0.13"/><line x1="392.57" x2="392.58" y1="374.4" y2="269.9" stroke-opacity="0.07"/><line x1="464.11" x2="464.12" y1="374.4" y2="269.9" stroke-opacity="0.10"/><line x1="460.66" x2="460.67" y1="374.4" y2="269.9" stroke-opacity="0.05"/><line x1="471.74" x2="471.75" y1="374.4" y2="269.9" stroke-opacity="0.12"/><line x1="425.61" x2="425.62" y1="374.4" y2="269.9" stroke-opacity="0.04"/><line x1="377.36" x2="377.37" y1="374.4" y2="269.9" stroke-opacity="0.10"/><line x1="480.88" x2="480.89" y1="374.4" y2="269.9" stroke-opacity="0.03"/><line x1="387.55" x2="387.56" y1="374.4" y2="269.9" stroke-opacity="0.12"/><line x1="401.49" x2="401.50" y1="374.4" y2="269.9" stroke-opacity="0.07"/><line x1="378.76" x2="378.77" y1="374.4" y2="269.9" stroke-opacity="0.09"/><line x1="421.62" x2="421.63" y1="374.4" y2="269.9" stroke-opacity="0.09"/><line x1="456.75" x2="456.76" y1="374.4" y2="269.9" stroke-opacity="0.05"/><line x1="484.32" x2="484.33" y1="374.4" y2="269.9" stroke-opacity="0.08"/><line x1="439.58" x2="439.59" y1="374.4" y2="269.9" stroke-opacity="0.03"/><line x1="385.41" x2="385.42" y1="374.4" y2="269.9" stroke-opacity="0.11"/><line x1="479.07" x2="479.08" y1="374.4" y2="269.9" stroke-opacity="0.08"/><line x1="386.72" x2="386.73" y1="374.4" y2="269.9" stroke-opacity="0.06"/><line x1="399.11" x2="399.12" y1="374.4" y2="269.9" stroke-opacity="0.07"/><line x1="401.01" x2="401.02" y1="374.4" y2="269.9" stroke-opacity="0.07"/><line x1="479.29" x2="479.30" y1="374.4" y2="269.9" stroke-opacity="0.05"/><line x1="423.29" x2="423.30" y1="374.4" y2="269.9" stroke-opacity="0.07"/><line x1="474.28" x2="474.29" y1="374.4" y2="269.9" stroke-opacity="0.10"/><line x1="440.58" x2="440.59" y1="374.4" y2="269.9" stroke-opacity="0.09"/><line x1="431.31" x2="431.32" y1="374.4" y2="269.9" stroke-opacity="0.13"/><line x1="467.65" x2="467.66" y1="374.4" y2="269.9" stroke-opacity="0.10"/><line x1="399.93" x2="399.94" y1="374.4" y2="269.9" stroke-opacity="0.11"/><line x1="407.07" x2="407.08" y1="374.4" y2="269.9" stroke-opacity="0.04"/><line x1="482.27" x2="482.28" y1="374.4" y2="269.9" stroke-opacity="0.08"/><line x1="446.12" x2="446.13" y1="374.4" y2="269.9" stroke-opacity="0.05"/><line x1="419.89" x2="419.90" y1="374.4" y2="269.9" stroke-opacity="0.05"/><line x1="449.10" x2="449.11" y1="374.4" y2="269.9" stroke-opacity="0.06"/><line x1="463.21" x2="463.22" y1="374.4" y2="269.9" stroke-opacity="0.09"/><line x1="458.84" x2="458.85" y1="374.4" y2="269.9" stroke-opacity="0.07"/><line x1="434.59" x2="434.60" y1="374.4" y2="269.9" stroke-opacity="0.07"/><line x1="448.49" x2="448.50" y1="374.4" y2="269.9" stroke-opacity="0.07"/><line x1="402.97" x2="402.98" y1="374.4" y2="269.9" stroke-opacity="0.13"/><line x1="431.80" x2="431.81" y1="374.4" y2="269.9" stroke-opacity="0.07"/><line x1="478.90" x2="478.91" y1="374.4" y2="269.9" stroke-opacity="0.12"/><line x1="482.60" x2="482.61" y1="374.4" y2="269.9" stroke-opacity="0.13"/><line x1="377.70" x2="377.71" y1="374.4" y2="269.9" stroke-opacity="0.09"/><line x1="405.04" x2="405.05" y1="374.4" y2="269.9" stroke-opacity="0.13"/><line x1="405.89" x2="405.90" y1="374.4" y2="269.9" stroke-opacity="0.13"/><line x1="413.62" x2="413.63" y1="374.4" y2="269.9" stroke-opacity="0.11"/><line x1="410.83" x2="410.84" y1="374.4" y2="269.9" stroke-opacity="0.10"/><line x1="408.20" x2="408.21" y1="374.4" y2="269.9" stroke-opacity="0.05"/><line x1="430.77" x2="430.78" y1="374.4" y2="269.9" stroke-opacity="0.05"/><line x1="403.46" x2="403.47" y1="374.4" y2="269.9" stroke-opacity="0.04"/></g>
<line x1="334.0" x2="334.0" y1="374.8" y2="215.4" stroke="#777" stroke-width="0.6"/>
<line x1="334.0" x2="535.5" y1="374.8" y2="374.8" stroke="#888" stroke-width="0.6"/>
<text class="tk" transform="translate(330.5,376.7) scale(1.07,1)" font-size="7.4" text-anchor="end">0</text>
<line x1="334.0" x2="336.0" y1="374.40" y2="374.40" stroke="#777" stroke-width="0.6"/>
<text class="tk" transform="translate(330.5,354.0) scale(1.07,1)" font-size="7.4" text-anchor="end">20</text>
<line x1="334.0" x2="336.0" y1="351.69" y2="351.69" stroke="#777" stroke-width="0.6"/>
<text class="tk" transform="translate(330.5,331.3) scale(1.07,1)" font-size="7.4" text-anchor="end">40</text>
<line x1="334.0" x2="336.0" y1="328.97" y2="328.97" stroke="#777" stroke-width="0.6"/>
<text class="tk" transform="translate(330.5,308.6) scale(1.07,1)" font-size="7.4" text-anchor="end">60</text>
<line x1="334.0" x2="336.0" y1="306.26" y2="306.26" stroke="#777" stroke-width="0.6"/>
<text class="tk" transform="translate(330.5,285.8) scale(1.07,1)" font-size="7.4" text-anchor="end">80</text>
<line x1="334.0" x2="336.0" y1="283.54" y2="283.54" stroke="#777" stroke-width="0.6"/>
<text class="tk" transform="translate(330.5,263.1) scale(1.07,1)" font-size="7.4" text-anchor="end">100</text>
<line x1="334.0" x2="336.0" y1="260.83" y2="260.83" stroke="#777" stroke-width="0.6"/>
<text class="tk" transform="translate(330.5,240.4) scale(1.07,1)" font-size="7.4" text-anchor="end">120</text>
<line x1="334.0" x2="336.0" y1="238.11" y2="238.11" stroke="#777" stroke-width="0.6"/>
<text class="tk" transform="translate(330.5,217.7) scale(1.07,1)" font-size="7.4" text-anchor="end">140</text>
<line x1="334.0" x2="336.0" y1="215.40" y2="215.40" stroke="#777" stroke-width="0.6"/>
<text class="tk" transform="translate(334.0,385.4) scale(1.07,1)" font-size="7.4" text-anchor="middle">0</text>
<text class="tk" transform="translate(367.6,385.4) scale(1.07,1)" font-size="7.4" text-anchor="middle">200</text>
<text class="tk" transform="translate(401.2,385.4) scale(1.07,1)" font-size="7.4" text-anchor="middle">400</text>
<text class="tk" transform="translate(434.8,385.4) scale(1.07,1)" font-size="7.4" text-anchor="middle">600</text>
<text class="tk" transform="translate(468.3,385.4) scale(1.07,1)" font-size="7.4" text-anchor="middle">800</text>
<text class="tk" transform="translate(501.9,385.4) scale(1.07,1)" font-size="7.4" text-anchor="middle">1000</text>
<text class="tk" transform="translate(535.5,385.4) scale(1.07,1)" font-size="7.4" text-anchor="middle">1200</text>
<text transform="translate(313.0,294.7) rotate(-90)" font-size="10.5" text-anchor="middle" textLength="37.2" lengthAdjust="spacingAndGlyphs">Intensity</text>
<text x="511.8" y="232.8" font-size="12.0" text-anchor="start" textLength="15.1" lengthAdjust="spacingAndGlyphs" style="stroke-width:0.55px">(d)</text>
</svg></body></html>
